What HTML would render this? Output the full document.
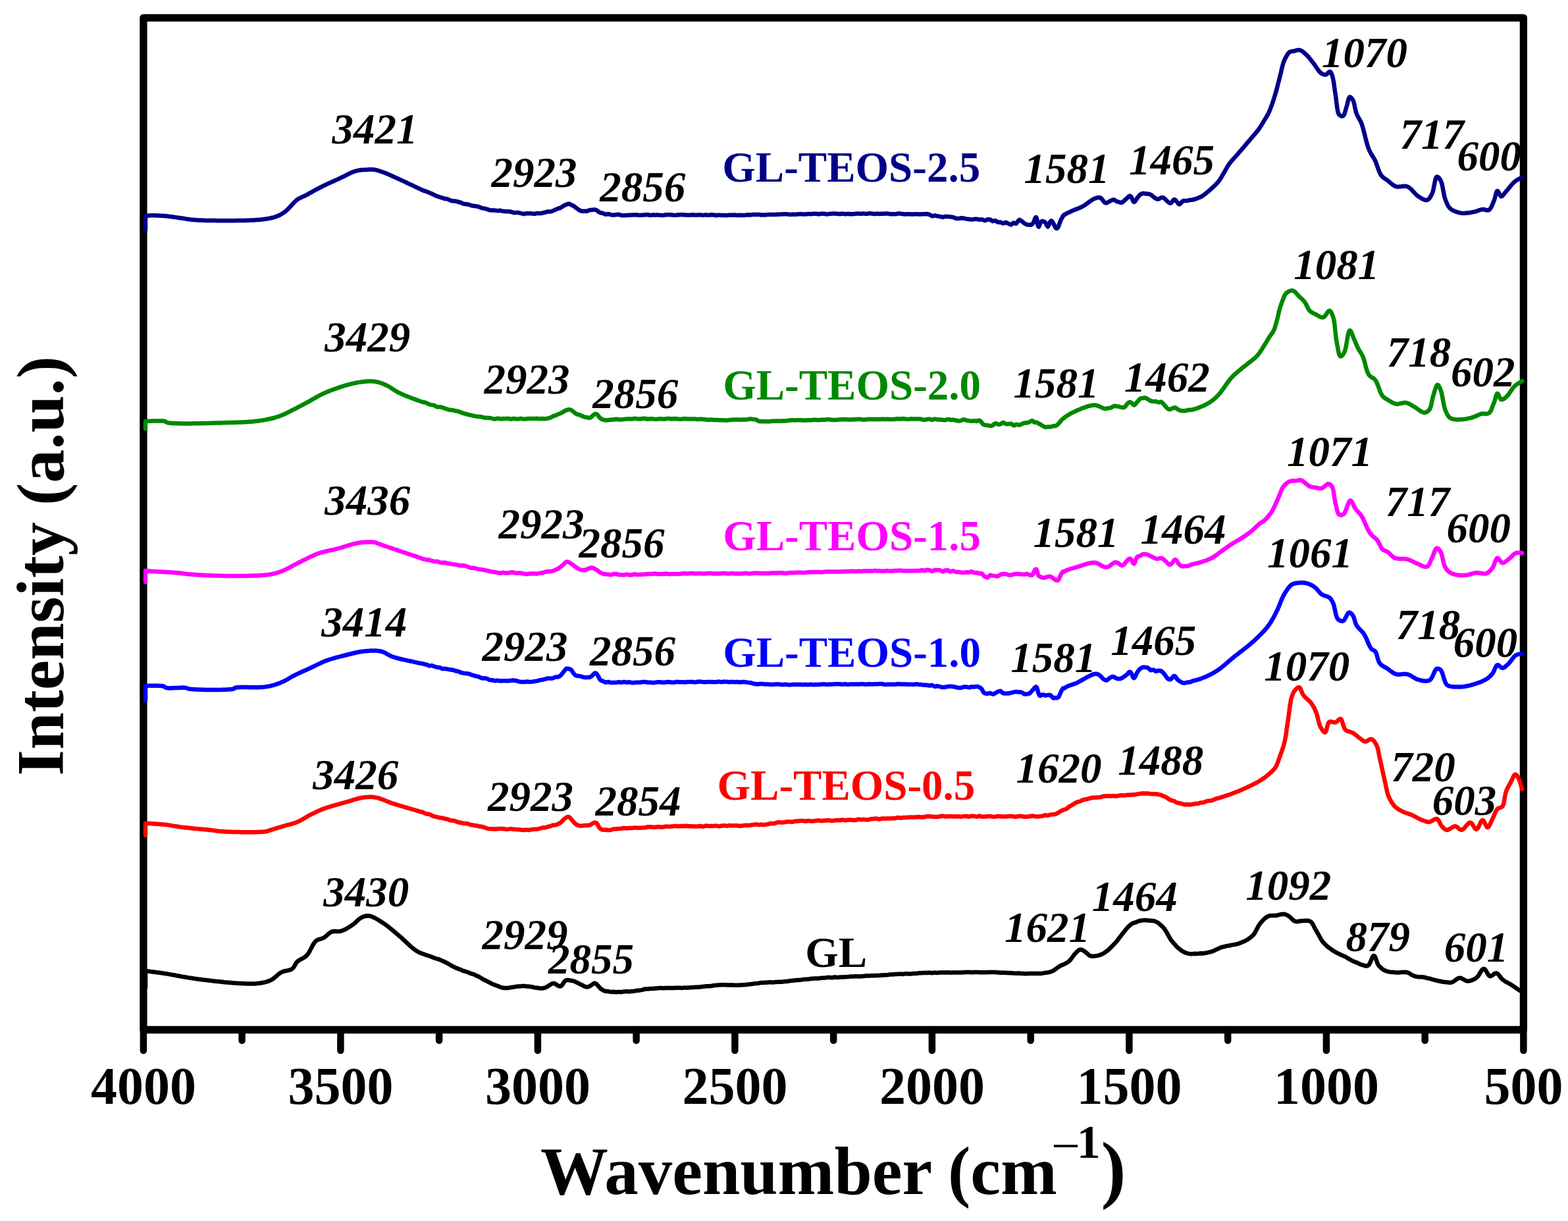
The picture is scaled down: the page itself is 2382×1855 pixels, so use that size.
<!DOCTYPE html>
<html><head><meta charset="utf-8"><title>FTIR spectra</title>
<style>
html,body{margin:0;padding:0;background:#fff;}
body{width:2382px;height:1855px;overflow:hidden;}
svg{display:block;}
text{font-family:"Liberation Serif",serif;}
.p{font-weight:bold;font-style:italic;font-size:65px;fill:#000;}
.s{font-weight:bold;font-size:65px;}
.t{font-weight:bold;font-size:80px;fill:#000;}
.c{fill:none;stroke-width:6.5;stroke-linejoin:round;stroke-linecap:round;}
</style></head><body>
<svg width="2382" height="1855" viewBox="0 0 2382 1855">
<rect x="0" y="0" width="2382" height="1855" fill="#fff"/>

<rect x="217.9" y="27.1" width="2096.5" height="1537.4" fill="none" stroke="#000" stroke-width="11.3" stroke-linejoin="round"/>
<line x1="217.9" y1="1564.5" x2="217.9" y2="1596" stroke="#000" stroke-width="10.5" stroke-linecap="round"/>
<line x1="367.6" y1="1564.5" x2="367.6" y2="1580.8" stroke="#000" stroke-width="10.5" stroke-linecap="round"/>
<line x1="517.4" y1="1564.5" x2="517.4" y2="1596" stroke="#000" stroke-width="10.5" stroke-linecap="round"/>
<line x1="667.1" y1="1564.5" x2="667.1" y2="1580.8" stroke="#000" stroke-width="10.5" stroke-linecap="round"/>
<line x1="816.9" y1="1564.5" x2="816.9" y2="1596" stroke="#000" stroke-width="10.5" stroke-linecap="round"/>
<line x1="966.6" y1="1564.5" x2="966.6" y2="1580.8" stroke="#000" stroke-width="10.5" stroke-linecap="round"/>
<line x1="1116.4" y1="1564.5" x2="1116.4" y2="1596" stroke="#000" stroke-width="10.5" stroke-linecap="round"/>
<line x1="1266.2" y1="1564.5" x2="1266.2" y2="1580.8" stroke="#000" stroke-width="10.5" stroke-linecap="round"/>
<line x1="1415.9" y1="1564.5" x2="1415.9" y2="1596" stroke="#000" stroke-width="10.5" stroke-linecap="round"/>
<line x1="1565.7" y1="1564.5" x2="1565.7" y2="1580.8" stroke="#000" stroke-width="10.5" stroke-linecap="round"/>
<line x1="1715.4" y1="1564.5" x2="1715.4" y2="1596" stroke="#000" stroke-width="10.5" stroke-linecap="round"/>
<line x1="1865.2" y1="1564.5" x2="1865.2" y2="1580.8" stroke="#000" stroke-width="10.5" stroke-linecap="round"/>
<line x1="2014.9" y1="1564.5" x2="2014.9" y2="1596" stroke="#000" stroke-width="10.5" stroke-linecap="round"/>
<line x1="2164.7" y1="1564.5" x2="2164.7" y2="1580.8" stroke="#000" stroke-width="10.5" stroke-linecap="round"/>
<line x1="2314.4" y1="1564.5" x2="2314.4" y2="1596" stroke="#000" stroke-width="10.5" stroke-linecap="round"/>
<text class="t" x="217.9" y="1676.6" text-anchor="middle">4000</text>
<text class="t" x="517.4" y="1676.6" text-anchor="middle">3500</text>
<text class="t" x="816.9" y="1676.6" text-anchor="middle">3000</text>
<text class="t" x="1116.4" y="1676.6" text-anchor="middle">2500</text>
<text class="t" x="1415.9" y="1676.6" text-anchor="middle">2000</text>
<text class="t" x="1715.4" y="1676.6" text-anchor="middle">1500</text>
<text class="t" x="2014.9" y="1676.6" text-anchor="middle">1000</text>
<text class="t" x="2314.4" y="1676.6" text-anchor="middle">500</text>
<polyline class="c" stroke="#000088" points="221.0,349.0 221.0,328.0 221.9,327.9 224.1,327.7 227.0,327.4 230.0,327.3 231.7,327.3 233.5,327.3 235.4,327.3 237.4,327.4 239.5,327.5 241.6,327.6 243.8,327.7 246.0,327.8 248.1,328.0 250.2,328.1 252.3,328.3 254.3,328.5 256.3,328.7 258.3,329.0 260.3,329.2 262.3,329.5 264.4,329.8 266.4,330.1 268.4,330.4 270.4,330.7 272.4,331.0 274.5,331.3 276.4,331.6 278.3,331.8 280.1,332.1 281.9,332.4 283.7,332.7 285.5,332.9 287.4,333.2 289.4,333.5 291.5,333.7 293.7,333.9 296.1,334.1 298.6,334.3 300.0,334.4 301.5,334.5 303.1,334.5 304.8,334.6 306.5,334.7 308.3,334.7 310.2,334.8 312.1,334.9 314.1,334.9 316.1,335.0 318.2,335.0 320.3,335.0 322.4,335.1 324.6,335.1 326.8,335.1 329.1,335.2 331.4,335.2 333.7,335.2 336.0,335.2 338.3,335.2 340.6,335.2 343.0,335.2 345.3,335.2 347.6,335.2 349.9,335.2 352.2,335.2 354.5,335.2 356.8,335.2 359.1,335.1 361.3,335.1 363.5,335.1 365.6,335.0 367.7,335.0 369.8,335.0 371.8,334.9 373.8,334.9 375.7,334.8 377.6,334.7 379.4,334.7 381.1,334.6 382.8,334.5 384.4,334.5 385.9,334.4 387.3,334.3 389.9,334.1 392.3,333.9 394.7,333.7 396.9,333.5 399.0,333.3 401.0,333.0 402.9,332.8 404.7,332.5 406.5,332.2 408.2,331.9 409.8,331.6 411.4,331.3 413.7,330.8 415.8,330.3 417.7,329.7 419.5,329.1 421.5,328.3 423.2,327.5 424.9,326.7 426.6,325.8 428.3,324.8 430.0,323.7 431.8,322.5 433.6,321.2 435.0,320.0 436.5,318.6 438.0,317.1 439.5,315.5 441.1,313.8 442.6,312.0 444.2,310.3 445.7,308.7 447.2,307.1 448.8,305.6 450.2,304.2 451.7,303.1 453.7,301.8 455.7,300.8 457.6,299.9 459.5,299.1 461.6,298.2 463.8,297.1 465.4,296.3 467.1,295.4 468.8,294.4 470.6,293.4 472.4,292.4 474.3,291.4 476.2,290.3 478.2,289.2 480.1,288.2 482.1,287.1 484.1,286.0 486.0,285.0 488.0,284.0 489.8,283.1 491.6,282.2 493.5,281.3 495.4,280.4 497.3,279.5 499.2,278.6 501.1,277.8 503.0,276.9 505.0,276.0 506.9,275.2 508.8,274.3 510.7,273.4 512.5,272.6 514.4,271.7 516.2,270.9 518.1,270.0 520.1,269.0 522.0,268.1 523.9,267.1 525.8,266.1 527.7,265.2 529.6,264.2 531.5,263.3 533.3,262.5 535.1,261.7 536.9,261.0 538.7,260.3 540.4,259.8 542.5,259.3 544.6,258.8 546.7,258.5 548.7,258.3 550.7,258.1 552.7,258.0 554.6,257.9 556.5,257.8 558.6,257.7 560.6,257.5 562.6,257.5 564.6,257.5 566.6,257.6 568.6,257.8 570.6,258.1 572.5,258.6 574.5,259.1 576.5,259.8 578.6,260.4 580.7,261.2 582.9,262.0 584.6,262.6 586.3,263.3 588.1,264.0 589.9,264.8 591.7,265.6 593.6,266.4 595.5,267.3 597.4,268.2 599.4,269.1 601.5,270.0 603.6,271.0 605.8,272.0 607.4,272.7 609.0,273.5 610.7,274.2 612.5,275.1 614.3,275.9 616.2,276.8 618.1,277.7 620.0,278.6 622.0,279.6 624.0,280.5 626.0,281.4 628.0,282.4 630.0,283.4 632.0,284.3 634.0,285.2 635.9,286.1 637.9,287.1 639.8,287.9 641.7,288.9 643.5,289.6 645.2,290.1 646.9,290.6 648.6,291.1 650.1,291.9 651.6,292.6 654.0,293.6 656.1,294.4 658.1,295.4 660.1,296.4 661.9,297.3 663.8,298.1 665.7,298.7 667.7,299.3 669.9,300.0 671.7,300.6 673.5,301.2 675.4,301.8 677.3,302.1 679.3,302.3 681.3,303.0 683.3,304.1 685.3,304.8 687.3,305.3 689.4,305.5 691.4,305.6 693.4,306.0 695.4,306.5 697.4,307.0 699.4,307.5 701.4,308.4 703.4,309.5 705.4,309.9 707.4,310.0 709.4,310.2 711.4,310.6 713.4,311.3 715.4,312.1 717.4,312.5 719.3,312.7 721.2,313.0 723.0,313.2 724.8,313.5 727.0,314.2 729.1,314.9 731.2,315.8 733.2,316.3 735.2,316.6 737.2,317.0 739.1,317.6 741.1,318.2 743.1,319.0 745.2,319.4 747.4,319.4 749.5,319.5 751.6,319.6 753.7,319.9 755.8,320.2 757.9,320.0 760.0,319.8 762.1,320.4 764.2,320.8 766.3,321.1 768.4,321.3 770.6,321.3 772.8,321.3 775.0,321.5 777.4,322.1 779.3,322.9 781.3,323.2 783.3,323.1 785.4,323.1 787.6,323.1 789.7,323.6 791.9,324.2 794.1,324.7 796.3,325.0 798.4,324.5 800.6,324.1 802.7,324.2 804.8,324.3 806.9,324.3 809.0,324.6 811.2,324.9 813.3,324.7 815.4,324.0 817.5,324.0 819.6,324.2 821.6,324.0 823.7,323.6 825.7,323.2 827.7,322.8 829.6,322.2 831.9,321.4 834.1,321.5 836.3,321.5 838.5,320.8 840.6,320.0 842.7,319.1 844.8,318.2 846.8,317.2 848.8,316.5 850.8,316.0 852.8,315.0 854.7,313.6 856.7,312.4 858.5,311.5 860.4,310.7 862.2,310.0 864.0,309.6 865.8,310.2 867.6,311.2 869.4,312.0 871.1,312.8 872.9,314.0 874.6,315.4 876.3,316.6 878.5,318.2 880.6,319.6 882.7,320.4 884.9,320.9 887.3,320.7 889.2,320.8 891.3,320.9 893.5,320.2 895.7,319.1 897.9,318.9 900.0,318.9 901.9,318.5 903.7,318.5 905.9,319.2 907.7,320.5 909.6,322.0 912.0,323.2 913.4,323.5 914.9,323.7 916.5,324.1 918.1,325.0 919.9,325.8 921.7,325.5 923.7,325.0 925.7,325.5 927.8,326.3 930.0,326.6 932.3,326.7 934.6,326.4 937.1,326.1 939.6,325.8 942.2,326.5 943.6,326.9 945.1,327.2 946.7,327.3 948.3,327.3 949.9,327.2 951.6,327.1 953.4,327.0 955.2,326.8 957.0,326.8 958.9,326.7 960.9,326.6 962.8,326.6 964.9,326.6 966.9,326.5 969.0,326.6 971.1,327.0 973.2,327.0 975.4,326.8 977.6,326.6 979.8,326.4 982.0,326.3 984.2,326.3 986.5,326.8 988.8,327.0 991.0,326.6 993.3,326.6 995.6,326.7 997.9,326.6 1000.2,326.6 1002.5,326.9 1004.8,327.1 1007.1,327.1 1009.4,326.8 1011.7,326.2 1013.9,326.2 1016.2,326.3 1018.4,326.3 1020.6,326.5 1022.8,326.8 1025.0,326.9 1027.2,326.8 1029.3,326.6 1031.4,326.4 1033.5,326.2 1035.5,326.2 1037.5,326.3 1039.5,326.5 1041.4,326.6 1043.3,326.7 1045.1,326.8 1046.9,326.8 1048.7,326.7 1050.4,326.5 1052.0,326.2 1054.4,326.6 1056.6,326.8 1058.8,326.7 1061.0,326.6 1063.1,326.5 1065.1,326.6 1067.0,326.9 1069.0,326.9 1070.9,326.6 1072.7,326.5 1074.6,326.7 1076.4,326.9 1078.2,326.6 1080.1,326.3 1081.9,326.4 1083.8,326.5 1085.6,326.8 1087.6,327.2 1089.5,327.0 1091.5,326.7 1093.5,326.8 1095.6,327.1 1097.8,327.1 1100.0,327.0 1101.8,327.1 1103.5,327.2 1105.3,327.1 1107.2,326.8 1109.0,326.7 1110.9,326.7 1112.8,326.7 1114.7,326.6 1116.7,326.7 1118.6,326.9 1120.6,327.1 1122.6,326.9 1124.6,326.8 1126.6,327.0 1128.6,327.1 1130.7,327.0 1132.7,326.8 1134.8,326.4 1136.9,326.2 1139.0,326.4 1141.0,326.4 1143.1,326.1 1145.2,326.0 1147.3,325.9 1149.4,325.9 1151.5,325.8 1153.6,326.1 1155.7,326.5 1157.8,326.5 1159.9,326.4 1162.0,326.4 1164.1,326.4 1166.2,326.1 1168.2,325.9 1170.3,326.0 1172.3,326.1 1174.4,326.1 1176.4,326.1 1178.4,325.9 1180.4,325.7 1182.4,325.8 1184.4,325.8 1186.5,325.6 1188.5,325.4 1190.5,325.3 1192.5,325.3 1194.4,325.3 1196.4,325.5 1198.4,325.7 1200.3,325.9 1202.2,325.8 1204.2,325.6 1206.1,325.7 1208.0,325.9 1209.9,325.6 1211.8,325.4 1213.8,325.3 1215.7,325.2 1217.6,325.3 1219.5,325.5 1221.5,325.6 1223.4,325.6 1225.4,325.3 1227.4,324.9 1229.3,324.9 1231.3,325.2 1233.4,325.1 1235.4,324.8 1237.4,324.7 1239.5,324.7 1241.6,325.0 1243.7,325.4 1245.9,325.0 1248.0,324.6 1250.2,324.7 1252.4,324.8 1254.7,325.3 1257.0,325.4 1259.3,325.0 1261.0,324.8 1262.8,324.7 1264.6,324.6 1266.4,324.6 1268.3,324.6 1270.2,324.7 1272.1,324.7 1274.1,325.0 1276.1,325.2 1278.1,324.8 1280.1,324.6 1282.2,325.0 1284.3,325.3 1286.4,325.0 1288.5,324.8 1290.7,325.2 1292.9,325.3 1295.0,325.3 1297.3,325.1 1299.5,324.7 1301.7,324.6 1304.0,324.6 1306.2,324.7 1308.5,324.7 1310.8,324.5 1313.1,324.6 1315.3,324.9 1317.6,324.7 1319.9,324.3 1322.2,324.3 1324.5,324.4 1326.8,325.0 1329.1,325.1 1331.4,324.7 1333.7,324.7 1336.0,324.9 1338.3,324.8 1340.5,324.7 1342.8,324.7 1345.0,324.5 1347.3,324.4 1349.5,324.7 1351.7,325.2 1353.9,325.3 1356.0,325.3 1358.2,325.3 1360.3,325.3 1362.4,324.8 1364.5,324.5 1366.6,324.6 1368.6,324.7 1370.6,325.0 1372.6,325.2 1374.6,325.4 1376.5,325.5 1378.4,325.3 1380.2,325.2 1382.1,325.3 1383.8,325.4 1385.6,325.4 1387.3,325.4 1389.0,325.4 1390.6,325.3 1392.2,325.2 1393.7,325.3 1395.2,325.5 1396.7,325.6 1398.1,325.5 1399.4,325.5 1400.7,325.2 1402.0,325.2 1404.8,325.2 1407.5,325.0 1409.9,325.4 1412.1,326.0 1414.2,327.3 1416.2,328.3 1418.2,327.8 1420.0,327.3 1421.9,327.8 1423.8,328.3 1425.7,328.6 1427.6,328.8 1429.7,329.4 1431.8,330.0 1433.9,329.5 1436.0,328.9 1438.0,329.0 1440.1,329.1 1442.2,329.3 1444.2,329.6 1446.3,329.7 1448.4,330.1 1450.5,331.1 1452.7,331.9 1454.8,332.1 1457.0,332.0 1459.0,331.4 1461.0,331.2 1463.1,331.4 1465.2,331.9 1467.3,332.4 1469.4,332.7 1471.6,333.0 1473.7,333.3 1475.9,333.5 1478.0,333.3 1480.1,333.0 1482.1,332.8 1484.2,332.8 1486.2,333.3 1488.1,333.7 1490.0,333.6 1492.2,333.6 1494.2,334.4 1496.3,335.1 1498.2,334.5 1500.2,333.3 1502.1,333.4 1504.0,333.5 1505.9,334.8 1507.9,336.2 1509.9,335.7 1512.0,335.1 1514.1,336.5 1516.2,337.8 1518.4,337.5 1520.7,337.8 1523.0,339.2 1525.3,339.1 1527.6,337.8 1529.8,338.6 1532.0,339.8 1534.1,340.7 1536.1,341.4 1537.9,340.0 1539.6,338.5 1541.7,339.1 1543.6,339.8 1545.3,337.9 1546.9,335.3 1548.6,333.9 1550.5,334.8 1552.2,336.2 1554.1,337.5 1556.1,339.2 1558.1,340.3 1560.1,341.3 1562.1,341.6 1563.9,341.6 1565.6,341.8 1567.0,341.4 1568.4,340.2 1569.7,338.6 1570.7,336.3 1571.6,333.9 1572.4,331.7 1573.2,330.3 1574.0,330.0 1574.7,331.1 1575.3,333.5 1575.8,336.7 1576.2,339.7 1576.7,342.3 1577.3,344.0 1578.0,344.5 1578.9,343.0 1579.9,340.0 1581.0,337.9 1582.2,336.3 1583.5,336.0 1585.0,336.2 1586.7,336.9 1588.5,338.8 1590.2,342.4 1591.8,344.5 1593.6,341.6 1595.2,337.2 1597.0,335.3 1598.3,336.3 1599.7,338.4 1601.2,341.4 1602.7,344.5 1604.2,346.9 1605.5,347.2 1606.5,346.5 1607.4,345.2 1608.2,343.4 1608.9,341.3 1609.7,339.0 1610.6,336.7 1611.5,334.4 1612.5,332.4 1613.7,330.7 1615.1,327.6 1616.7,326.4 1618.4,325.4 1620.1,324.4 1621.9,323.5 1623.8,322.7 1625.7,321.8 1627.5,320.9 1629.5,320.0 1631.5,319.1 1633.5,318.4 1635.6,317.6 1637.7,316.8 1639.8,316.0 1641.9,315.0 1644.0,314.0 1645.7,313.0 1647.5,311.9 1649.3,310.6 1651.2,309.3 1653.0,308.0 1654.8,306.7 1656.6,305.4 1658.3,304.2 1659.9,303.1 1661.5,302.3 1663.0,301.6 1665.3,300.8 1667.4,300.2 1669.4,300.0 1671.4,300.3 1673.1,301.5 1674.7,303.4 1676.3,305.6 1677.9,307.5 1679.7,308.5 1681.7,308.1 1683.8,307.0 1686.1,305.7 1688.4,304.4 1690.7,303.4 1692.6,303.6 1694.6,304.9 1696.6,306.1 1698.6,306.7 1700.7,307.2 1702.6,307.8 1704.5,307.7 1706.4,306.3 1708.3,304.4 1710.2,302.9 1712.0,301.2 1713.7,299.4 1715.3,298.0 1716.7,297.6 1718.2,298.7 1719.4,301.0 1720.5,303.7 1721.6,306.0 1722.8,307.0 1724.0,306.4 1725.1,304.9 1726.3,303.0 1727.5,301.0 1728.9,299.1 1730.6,297.1 1732.4,295.3 1734.4,294.3 1736.5,293.7 1738.4,293.9 1740.4,294.3 1742.6,294.4 1744.7,294.7 1746.8,295.2 1748.8,296.1 1750.7,297.7 1752.6,299.4 1754.3,300.7 1756.1,301.7 1757.9,302.5 1760.2,302.4 1762.5,301.1 1764.8,300.1 1767.1,300.3 1768.7,301.3 1770.3,302.7 1771.9,304.6 1773.5,306.0 1775.0,307.2 1776.4,308.2 1777.8,308.8 1779.4,308.1 1780.9,306.1 1782.4,304.0 1783.9,303.1 1785.4,303.6 1786.9,305.3 1788.5,307.4 1790.0,309.5 1791.5,310.4 1793.0,309.8 1794.4,308.1 1795.9,306.2 1797.7,305.1 1799.4,305.0 1801.3,305.0 1803.4,305.0 1805.6,304.5 1807.7,303.7 1809.9,303.8 1811.8,303.5 1813.7,303.0 1815.6,302.5 1817.5,301.8 1819.5,301.1 1821.4,300.3 1823.3,299.5 1825.2,298.5 1827.0,297.4 1828.8,296.2 1830.5,294.9 1832.3,293.5 1834.0,292.1 1835.7,290.6 1837.4,289.1 1839.0,287.7 1840.5,286.3 1842.2,284.8 1843.8,283.3 1845.4,281.8 1846.9,280.3 1848.3,278.8 1849.8,277.2 1851.1,275.6 1852.3,274.0 1853.5,272.3 1854.6,270.6 1855.6,268.8 1856.6,267.0 1857.7,265.2 1858.8,263.4 1859.9,261.6 1861.0,259.6 1862.1,257.7 1863.2,255.7 1864.4,253.7 1865.5,251.8 1866.7,249.9 1868.0,248.1 1869.2,246.5 1870.5,245.0 1871.8,243.5 1873.1,242.1 1874.4,240.6 1875.8,239.1 1877.2,237.6 1878.7,235.9 1879.9,234.6 1881.1,233.1 1882.3,231.7 1883.6,230.2 1885.0,228.6 1886.3,227.1 1887.7,225.5 1889.0,223.9 1890.4,222.3 1891.8,220.7 1893.1,219.1 1894.4,217.5 1895.7,216.0 1897.0,214.5 1898.5,212.8 1900.0,211.0 1901.4,209.3 1902.9,207.6 1904.4,205.9 1905.8,204.2 1907.2,202.5 1908.6,200.9 1909.9,199.2 1911.1,197.7 1912.3,196.1 1913.6,194.3 1914.8,192.5 1915.9,190.8 1916.9,189.1 1917.9,187.4 1919.0,185.7 1920.0,183.9 1921.1,182.1 1922.2,180.4 1923.3,178.6 1924.3,176.8 1925.4,174.9 1926.5,173.0 1927.5,170.8 1928.3,169.1 1929.0,167.3 1929.8,165.4 1930.5,163.5 1931.3,161.5 1932.0,159.4 1932.8,157.3 1933.5,155.2 1934.2,153.0 1934.9,150.9 1935.6,148.7 1936.2,146.6 1936.9,144.5 1937.5,142.5 1938.1,140.5 1938.7,138.5 1939.2,136.5 1939.8,134.4 1940.3,132.4 1940.8,130.4 1941.3,128.3 1941.8,126.3 1942.4,124.2 1942.9,122.2 1943.4,120.2 1943.9,118.3 1944.4,116.3 1944.9,114.2 1945.5,112.0 1946.0,109.9 1946.5,107.7 1946.9,105.6 1947.4,103.4 1947.9,101.4 1948.5,99.3 1949.0,97.4 1949.6,95.4 1950.3,93.6 1951.0,91.9 1952.0,89.6 1953.2,87.4 1954.3,85.2 1955.6,83.1 1956.8,81.3 1958.1,79.9 1959.4,78.8 1962.1,78.0 1965.0,77.8 1967.2,77.2 1969.6,76.5 1972.0,75.9 1974.4,76.0 1976.3,76.7 1978.2,77.8 1980.1,79.2 1981.9,80.8 1983.8,82.5 1985.2,83.9 1986.7,85.4 1988.1,87.0 1989.5,88.7 1990.9,90.4 1992.3,92.2 1993.7,94.0 1995.1,95.7 1996.4,97.4 1997.6,99.2 1998.9,101.1 2000.1,103.0 2001.4,104.9 2002.6,106.6 2003.9,108.2 2005.1,109.6 2006.4,110.7 2008.3,112.0 2010.2,112.9 2012.1,113.5 2013.9,113.5 2015.7,112.6 2017.4,110.9 2019.0,109.3 2020.4,108.8 2021.6,109.7 2022.5,111.4 2023.4,113.7 2024.2,116.3 2024.6,117.7 2025.0,119.3 2025.4,121.1 2025.7,123.0 2026.1,125.0 2026.4,127.0 2026.7,129.2 2027.0,131.4 2027.3,133.6 2027.6,135.8 2027.9,138.1 2028.2,140.3 2028.5,142.4 2028.9,144.5 2029.2,146.5 2029.5,148.7 2029.8,151.0 2030.1,153.4 2030.3,155.8 2030.6,158.1 2030.9,160.5 2031.2,162.8 2031.5,165.0 2031.9,167.1 2032.3,169.0 2032.7,170.8 2033.3,172.3 2033.8,173.5 2034.5,174.5 2037.3,176.4 2040.1,176.4 2041.0,175.6 2041.9,174.2 2042.6,172.4 2043.3,170.3 2043.9,168.0 2044.5,165.7 2045.2,163.4 2045.8,161.4 2046.5,159.1 2047.1,156.6 2047.7,154.0 2048.3,151.6 2049.0,149.5 2049.7,148.0 2050.5,147.3 2052.0,147.8 2053.7,149.7 2055.2,152.0 2055.9,153.4 2056.5,155.2 2057.1,157.2 2057.6,159.3 2058.0,161.6 2058.5,163.9 2059.0,166.2 2059.5,168.5 2060.1,170.6 2060.8,172.6 2061.6,174.6 2062.5,176.4 2063.4,178.1 2064.4,179.8 2065.4,181.6 2066.4,183.4 2067.4,185.5 2068.3,187.7 2068.9,189.3 2069.4,190.9 2070.0,192.7 2070.5,194.6 2071.1,196.6 2071.6,198.7 2072.2,200.8 2072.7,202.9 2073.3,205.1 2073.8,207.3 2074.3,209.5 2074.9,211.7 2075.5,213.8 2076.0,216.0 2076.6,218.0 2077.2,220.0 2077.8,222.0 2078.4,223.8 2079.0,225.5 2079.6,227.1 2080.6,229.3 2081.6,231.4 2082.7,233.2 2083.7,235.0 2084.8,236.7 2085.9,238.5 2087.0,240.2 2088.0,242.0 2089.0,244.0 2089.8,245.8 2090.6,247.7 2091.3,249.7 2092.0,251.7 2092.7,253.8 2093.4,255.9 2094.2,257.9 2094.9,259.9 2095.7,261.8 2096.5,263.5 2097.4,265.1 2098.3,266.5 2099.7,268.1 2101.2,269.5 2102.7,270.6 2104.3,271.7 2106.0,272.8 2107.7,274.0 2109.2,275.2 2110.7,276.5 2112.3,277.9 2113.9,279.2 2115.6,280.5 2117.3,281.7 2119.1,282.7 2120.9,283.4 2122.9,283.8 2124.9,283.8 2127.1,283.6 2129.3,283.3 2131.5,282.9 2133.6,282.8 2135.8,282.9 2137.8,283.4 2139.4,284.2 2141.1,285.3 2142.6,286.6 2144.2,288.0 2145.7,289.6 2147.2,291.3 2148.7,292.9 2150.2,294.5 2151.7,296.0 2153.2,297.3 2154.7,298.4 2156.6,299.6 2158.6,300.9 2160.6,302.1 2162.6,303.0 2164.4,303.8 2166.2,304.1 2167.8,304.0 2169.6,303.1 2171.2,301.6 2172.7,299.5 2174.0,297.2 2175.3,294.7 2176.0,293.0 2176.7,291.0 2177.3,288.7 2177.8,286.1 2178.3,283.5 2178.9,280.8 2179.4,278.2 2179.9,275.7 2180.4,273.5 2180.9,271.5 2181.5,270.0 2182.1,268.9 2182.8,268.4 2184.6,269.0 2186.6,271.1 2188.4,274.0 2189.0,275.3 2189.6,276.8 2190.2,278.6 2190.7,280.5 2191.1,282.6 2191.6,284.8 2192.0,287.1 2192.5,289.4 2192.9,291.7 2193.4,294.0 2193.8,296.3 2194.3,298.4 2194.8,300.5 2195.4,302.3 2196.0,304.0 2196.9,306.3 2197.8,308.4 2198.7,310.5 2199.7,312.4 2200.8,314.1 2202.0,315.7 2203.5,317.2 2205.0,318.3 2206.6,319.4 2208.4,320.3 2210.3,321.1 2212.2,321.8 2214.3,322.4 2216.3,323.0 2218.3,323.4 2220.3,323.7 2222.3,323.9 2224.4,323.9 2226.6,323.8 2228.7,323.6 2230.9,323.4 2233.0,323.0 2235.1,322.7 2237.2,322.3 2239.1,321.9 2241.5,321.3 2243.8,320.6 2246.0,319.8 2248.1,319.0 2250.2,318.4 2252.3,318.1 2254.8,318.3 2257.3,319.0 2259.6,319.5 2261.7,319.1 2263.0,318.1 2264.3,316.6 2265.4,314.7 2266.4,312.5 2267.4,310.3 2268.3,308.0 2269.2,305.9 2270.0,303.8 2270.7,301.4 2271.4,298.8 2272.0,296.2 2272.7,293.8 2273.3,291.9 2274.0,290.6 2274.8,290.0 2275.8,290.8 2276.9,292.8 2278.0,295.3 2279.2,297.4 2280.4,298.4 2281.8,298.0 2283.2,296.7 2284.7,294.9 2286.3,292.8 2287.9,290.9 2289.2,289.4 2290.6,287.8 2292.0,286.0 2293.5,284.2 2295.0,282.3 2296.5,280.5 2298.1,278.8 2299.6,277.3 2301.1,275.9 2303.2,274.4 2305.6,272.8 2308.1,271.5 2310.2,270.3 2311.7,269.6 2312.3,269.3"/>
<polyline class="c" stroke="#008800" points="221.0,651.0 221.0,640.0 221.4,640.0 222.4,639.9 223.9,639.9 225.9,639.8 228.3,639.7 230.9,639.6 233.7,639.5 236.6,639.5 239.5,639.4 242.2,639.4 244.8,639.5 247.0,639.6 248.9,639.8 250.3,640.0 252.2,641.0 254.3,642.1 255.1,642.3 255.9,642.4 256.9,642.6 258.1,642.7 259.3,642.8 260.6,642.9 262.1,643.0 263.6,643.1 265.3,643.1 267.0,643.2 268.8,643.3 270.7,643.3 272.7,643.3 274.7,643.4 276.8,643.4 279.0,643.4 281.2,643.4 283.5,643.4 285.8,643.4 288.2,643.4 290.5,643.4 293.0,643.3 295.4,643.3 297.9,643.3 300.3,643.2 302.8,643.2 305.3,643.2 307.8,643.1 310.3,643.1 312.8,643.0 315.2,642.9 317.7,642.9 320.1,642.8 322.5,642.8 324.8,642.7 327.1,642.6 329.4,642.6 331.6,642.5 333.8,642.5 335.9,642.4 337.9,642.3 339.9,642.3 341.8,642.2 343.6,642.2 345.4,642.1 347.0,642.1 349.4,642.0 351.7,642.0 354.0,641.9 356.3,641.8 358.5,641.8 360.6,641.7 362.7,641.6 364.8,641.5 366.8,641.5 368.8,641.4 370.8,641.3 372.7,641.2 374.6,641.1 376.5,640.9 378.4,640.8 380.2,640.7 382.0,640.5 383.8,640.4 385.5,640.2 387.3,640.0 389.5,639.7 391.7,639.5 393.9,639.2 396.0,638.9 398.0,638.6 400.1,638.3 402.0,637.9 404.0,637.6 405.9,637.2 407.8,636.8 409.6,636.4 411.4,636.0 413.6,635.5 415.6,635.0 417.5,634.5 419.4,633.9 421.3,633.3 423.3,632.6 425.3,631.9 427.6,631.0 429.1,630.4 430.7,629.7 432.3,629.0 434.0,628.2 435.8,627.3 437.5,626.5 439.3,625.6 441.2,624.7 443.0,623.7 444.9,622.7 446.8,621.8 448.7,620.8 450.6,619.8 452.5,618.8 454.4,617.8 456.3,616.8 458.1,615.8 460.0,614.8 461.8,613.9 463.6,613.0 465.4,612.0 467.1,611.0 468.9,610.1 470.7,609.1 472.4,608.1 474.2,607.1 475.9,606.1 477.7,605.1 479.4,604.1 481.2,603.1 483.0,602.1 484.8,601.2 486.6,600.2 488.4,599.3 490.3,598.4 492.1,597.5 494.1,596.6 496.0,595.8 497.8,595.1 499.6,594.3 501.5,593.6 503.4,592.8 505.3,592.1 507.3,591.4 509.3,590.7 511.3,589.9 513.3,589.2 515.3,588.6 517.3,587.9 519.3,587.2 521.4,586.6 523.4,586.0 525.4,585.4 527.3,584.9 529.3,584.3 531.2,583.8 533.1,583.3 535.0,582.9 536.8,582.4 538.6,582.1 540.4,581.7 542.6,581.3 544.8,580.9 546.9,580.6 549.0,580.2 551.1,580.0 553.2,579.7 555.2,579.5 557.2,579.4 559.2,579.3 561.2,579.2 563.1,579.2 564.9,579.3 566.8,579.4 568.6,579.6 570.9,579.9 573.1,580.4 575.3,580.9 577.4,581.5 579.4,582.2 581.5,583.0 583.5,583.8 585.5,584.7 587.5,585.6 589.3,586.5 591.1,587.5 592.8,588.5 594.5,589.6 596.1,590.8 597.9,591.9 599.7,593.1 601.6,594.3 603.6,595.5 605.8,596.6 607.3,597.3 608.9,598.0 610.5,598.8 612.2,599.5 613.9,600.3 615.7,601.0 617.5,601.8 619.4,602.5 621.3,603.3 623.3,604.1 625.3,604.8 627.3,605.6 629.3,606.3 631.4,607.1 633.4,607.8 635.5,608.6 637.5,609.3 639.6,610.0 641.6,610.8 643.7,610.9 645.7,611.5 647.7,612.2 649.7,613.2 651.6,614.2 653.6,614.7 655.6,615.1 657.6,615.4 659.6,615.7 661.6,616.9 663.6,618.2 665.6,618.3 667.7,618.2 669.7,618.5 671.7,618.9 673.8,619.7 675.8,620.4 677.8,621.1 679.8,621.8 681.8,622.4 683.8,623.0 685.8,623.1 687.8,623.0 689.7,623.6 691.7,624.2 693.6,624.5 695.5,624.8 697.4,625.4 699.6,626.3 701.7,627.1 703.9,627.9 706.1,628.4 708.3,629.0 710.4,629.6 712.6,630.2 714.7,630.6 716.9,631.1 719.0,631.6 721.0,632.1 723.0,632.4 725.0,632.7 726.9,632.9 728.8,633.1 730.6,633.3 732.3,633.5 734.0,634.1 736.3,634.8 738.3,634.8 740.3,634.8 742.1,634.9 744.0,634.9 745.8,635.3 747.8,635.8 750.0,636.3 751.9,636.7 753.8,636.2 755.8,635.7 757.9,636.0 760.0,636.4 762.2,636.2 764.3,636.1 766.5,636.2 768.7,636.1 770.9,635.8 773.1,636.0 775.3,636.7 777.4,636.5 779.5,636.0 781.6,636.1 783.7,636.5 785.8,636.4 787.9,636.4 790.0,636.1 792.2,635.9 794.3,636.4 796.4,636.7 798.5,636.4 800.6,636.2 802.7,636.1 804.8,636.0 806.9,635.9 809.1,635.9 811.3,636.0 813.5,635.9 815.7,635.8 817.9,636.1 820.1,636.4 822.3,636.1 824.4,636.0 826.5,636.2 828.5,636.2 830.4,635.9 832.3,635.5 834.6,635.1 836.8,634.3 838.9,633.0 840.9,632.0 842.9,631.5 844.9,630.7 846.8,629.8 848.8,629.0 850.8,628.3 852.7,627.4 854.7,626.1 856.6,625.0 858.5,624.0 860.4,623.1 862.2,622.5 864.0,622.2 865.8,622.3 867.5,622.8 869.2,623.9 870.9,625.4 872.6,626.9 874.4,628.2 876.3,629.3 878.3,629.7 880.4,630.3 882.6,631.2 884.9,632.2 887.2,633.3 889.4,633.9 891.6,634.1 893.7,634.6 895.5,635.0 897.7,634.1 899.7,632.2 901.5,630.5 903.3,629.1 905.1,628.7 906.7,629.4 908.1,630.7 909.5,632.5 911.0,634.3 912.7,635.9 914.7,637.1 916.2,637.5 917.9,638.0 919.6,638.3 921.4,638.4 923.3,638.2 925.3,638.0 927.4,637.7 929.6,637.6 931.9,637.6 934.3,637.0 936.8,636.7 939.4,637.3 942.2,637.4 943.6,637.4 945.0,637.3 946.6,637.1 948.1,637.0 949.8,636.8 951.4,636.6 953.2,636.5 955.0,636.5 956.8,636.6 958.7,636.6 960.6,636.5 962.5,636.1 964.5,635.8 966.6,636.1 968.7,636.4 970.8,636.4 972.9,636.4 975.0,636.0 977.2,635.9 979.4,635.8 981.7,636.2 983.9,636.9 986.2,636.5 988.4,636.2 990.7,636.3 993.0,636.6 995.3,636.9 997.6,636.8 1000.0,636.6 1002.3,636.3 1004.6,636.3 1006.9,636.7 1009.2,636.7 1011.5,636.3 1013.7,636.1 1016.0,635.9 1018.3,636.3 1020.5,636.5 1022.7,636.2 1024.9,636.1 1027.1,636.2 1029.2,636.4 1031.3,636.7 1033.4,636.8 1035.4,636.7 1037.5,636.4 1039.4,636.1 1041.4,636.2 1043.3,636.4 1045.1,636.5 1046.9,636.5 1048.7,636.6 1050.4,636.6 1052.0,636.7 1054.4,636.6 1056.7,636.6 1058.9,636.9 1061.1,636.9 1063.3,636.7 1065.4,636.7 1067.4,636.9 1069.4,637.1 1071.4,637.2 1073.4,637.5 1075.3,637.9 1077.2,637.8 1079.1,637.5 1080.9,637.5 1082.8,637.9 1084.7,638.1 1086.5,637.9 1088.4,637.9 1090.3,638.1 1092.2,638.3 1094.1,638.3 1096.0,638.2 1098.0,638.3 1100.0,638.4 1102.1,638.5 1104.3,638.6 1106.6,638.3 1108.9,638.1 1111.3,637.8 1113.8,637.7 1116.3,637.5 1118.8,637.4 1121.3,637.5 1123.8,637.8 1126.2,637.6 1128.7,637.4 1131.0,637.5 1133.3,637.4 1135.5,637.2 1137.7,636.8 1139.7,636.4 1141.6,636.6 1143.3,636.9 1144.9,637.1 1146.3,637.2 1147.6,637.4 1148.6,637.5 1149.5,637.8 1152.0,639.7 1152.7,639.9 1153.6,640.0 1154.6,640.1 1155.8,640.2 1157.0,640.2 1158.4,640.2 1159.9,640.2 1161.5,640.2 1163.2,640.2 1164.9,640.3 1166.8,640.4 1168.8,640.3 1170.8,640.0 1172.9,639.8 1175.1,639.8 1177.3,639.8 1179.6,639.6 1182.0,639.7 1184.4,639.8 1186.8,639.6 1189.3,639.5 1191.8,639.4 1194.4,639.3 1197.0,639.0 1199.5,638.5 1202.2,638.3 1204.8,638.3 1207.4,638.4 1210.0,638.3 1211.4,638.2 1212.8,638.2 1214.3,638.2 1215.8,638.2 1217.4,638.3 1219.0,638.4 1220.6,638.5 1222.3,638.5 1224.0,638.6 1225.7,638.5 1227.4,638.3 1229.2,638.3 1231.0,638.4 1232.8,638.2 1234.7,637.9 1236.6,637.7 1238.5,637.8 1240.5,637.9 1242.4,638.2 1244.4,638.3 1246.4,637.9 1248.5,637.5 1250.5,637.7 1252.6,637.7 1254.7,637.5 1256.8,637.3 1259.0,637.3 1261.1,637.5 1263.3,637.9 1265.5,638.1 1267.7,638.1 1269.9,637.9 1272.2,637.7 1274.4,637.4 1276.7,637.2 1278.9,637.2 1281.2,637.2 1283.5,637.1 1285.8,637.3 1288.1,637.5 1290.4,637.5 1292.7,637.4 1295.1,637.3 1297.4,637.2 1299.7,637.2 1302.1,637.0 1304.4,636.8 1306.8,637.0 1309.1,637.3 1311.4,637.5 1313.8,637.4 1316.1,637.3 1318.5,636.9 1320.8,636.7 1323.2,636.9 1325.5,637.0 1327.8,637.1 1330.1,636.9 1332.5,636.7 1334.8,637.0 1337.1,637.1 1339.4,636.8 1341.6,636.8 1343.9,637.0 1346.2,636.8 1348.4,636.7 1350.7,637.0 1352.9,637.1 1355.1,637.0 1357.3,636.9 1359.4,636.8 1361.6,636.5 1363.7,636.3 1365.9,636.4 1368.0,636.5 1370.1,636.3 1372.1,636.1 1374.2,636.4 1376.2,636.7 1378.2,636.8 1380.2,636.9 1382.1,636.6 1384.0,636.2 1385.9,636.4 1387.8,636.5 1389.6,636.5 1391.5,636.5 1393.2,636.5 1395.0,636.5 1396.7,636.5 1398.4,636.6 1400.1,637.2 1401.7,637.4 1403.3,637.7 1404.9,637.7 1406.4,637.4 1407.9,637.2 1409.3,637.0 1410.7,636.8 1412.1,636.6 1413.5,637.1 1414.7,637.5 1416.0,638.0 1418.8,636.8 1421.4,636.7 1423.9,637.5 1426.3,637.5 1428.6,637.5 1430.8,637.7 1432.9,638.0 1434.9,638.2 1436.8,638.0 1438.7,637.2 1440.6,636.9 1442.4,637.5 1444.2,638.0 1446.0,637.8 1447.8,637.7 1449.6,638.0 1451.4,638.5 1453.2,638.9 1455.1,639.4 1457.0,639.5 1459.2,639.1 1461.5,638.3 1463.8,637.3 1466.2,637.9 1468.5,638.6 1470.9,639.0 1473.2,639.4 1475.5,639.7 1477.7,639.5 1479.9,639.2 1481.9,639.5 1483.9,639.9 1485.6,639.2 1487.3,638.6 1488.7,639.0 1490.0,640.2 1492.1,643.0 1493.5,644.6 1495.6,645.7 1496.9,645.9 1498.4,645.9 1500.1,646.0 1502.0,646.6 1504.1,647.0 1506.2,646.8 1508.4,646.1 1510.7,643.8 1513.0,643.1 1515.3,644.6 1517.6,644.8 1519.8,644.4 1521.9,643.1 1523.9,641.7 1525.8,642.8 1528.1,644.2 1530.3,644.2 1532.4,644.1 1534.5,643.7 1536.5,643.8 1538.5,645.6 1540.6,646.5 1542.7,645.1 1545.0,644.7 1546.9,645.6 1548.9,645.7 1551.0,644.8 1553.2,643.8 1555.4,642.7 1557.6,642.5 1559.8,642.6 1562.0,641.8 1564.1,640.9 1566.1,639.9 1568.0,639.0 1569.7,640.2 1571.2,641.5 1572.5,641.9 1574.6,641.4 1575.9,642.2 1578.0,643.8 1579.4,644.1 1581.1,645.1 1583.1,646.5 1585.3,647.8 1587.6,648.9 1590.0,648.7 1592.5,648.4 1595.0,648.6 1597.4,648.2 1599.7,647.2 1601.9,647.2 1603.8,647.1 1605.5,646.0 1607.5,644.2 1609.1,642.5 1610.6,640.7 1611.9,638.9 1613.3,637.4 1614.8,636.1 1616.5,634.8 1618.0,633.7 1619.5,632.6 1621.1,631.5 1622.8,630.5 1624.5,629.4 1626.3,628.4 1628.1,627.4 1630.0,626.5 1631.8,625.6 1633.8,624.7 1635.7,623.8 1637.5,623.0 1639.4,622.2 1641.3,621.4 1643.3,620.6 1645.4,619.8 1647.4,619.0 1649.5,618.3 1651.6,617.6 1653.7,617.0 1655.7,616.5 1657.7,616.1 1659.6,615.7 1661.4,615.5 1663.2,615.5 1665.5,615.8 1667.7,616.4 1669.8,617.3 1671.8,618.3 1673.8,619.3 1675.8,620.1 1677.8,620.8 1679.7,621.0 1681.9,620.2 1684.1,620.2 1686.2,619.9 1688.4,619.2 1690.5,617.7 1692.7,616.8 1694.7,617.0 1696.8,617.4 1699.0,617.6 1701.1,618.1 1703.2,618.6 1705.2,619.0 1707.0,619.2 1708.8,618.2 1710.5,616.1 1712.1,613.8 1713.6,612.3 1715.1,611.3 1716.5,610.9 1718.2,611.5 1719.9,613.0 1721.4,614.7 1722.9,615.5 1724.5,614.4 1725.9,612.5 1727.6,610.7 1729.2,608.8 1731.0,606.5 1733.0,605.2 1735.0,605.1 1737.1,604.7 1739.1,604.3 1741.1,604.8 1743.2,606.2 1745.4,607.6 1747.6,608.9 1749.8,609.6 1751.7,609.8 1753.8,609.9 1755.9,609.8 1758.0,610.5 1760.1,611.3 1762.1,610.8 1764.0,610.5 1765.7,611.8 1767.5,613.8 1769.2,615.6 1770.6,617.4 1772.1,619.1 1773.6,620.7 1775.2,621.7 1777.1,621.9 1779.0,621.4 1781.0,620.5 1783.0,619.6 1784.8,619.2 1786.8,619.9 1788.6,621.4 1790.5,622.7 1792.7,623.6 1794.5,623.9 1796.4,624.0 1798.4,624.2 1800.6,624.1 1802.7,623.5 1804.9,623.0 1807.0,622.7 1809.0,622.8 1811.0,622.5 1812.9,622.0 1815.0,621.4 1817.0,620.8 1819.0,620.1 1820.9,619.4 1822.9,618.6 1824.9,617.8 1827.0,616.9 1829.0,616.0 1831.0,615.0 1833.0,614.0 1835.0,612.9 1836.9,611.8 1838.7,610.6 1840.4,609.4 1842.0,608.2 1843.6,607.0 1845.2,605.6 1846.7,604.3 1848.2,602.8 1849.8,601.2 1851.4,599.5 1852.6,598.1 1853.8,596.6 1855.1,595.0 1856.3,593.3 1857.6,591.6 1858.9,589.8 1860.2,587.9 1861.5,586.1 1862.8,584.2 1864.0,582.4 1865.3,580.6 1866.6,578.8 1867.9,577.1 1869.2,575.6 1870.5,574.1 1872.1,572.4 1873.7,570.8 1875.4,569.2 1877.0,567.7 1878.7,566.2 1880.3,564.8 1881.9,563.5 1883.5,562.2 1884.9,561.0 1886.3,559.8 1888.0,558.4 1889.6,557.2 1891.1,556.0 1892.7,554.8 1894.4,553.4 1895.8,552.3 1897.3,551.1 1898.9,549.9 1900.6,548.6 1902.3,547.2 1904.0,545.8 1905.6,544.4 1907.3,543.0 1908.8,541.5 1910.2,540.0 1911.6,538.3 1912.9,536.6 1914.2,534.8 1915.4,533.0 1916.6,531.2 1917.7,529.3 1918.8,527.5 1919.9,525.7 1921.0,524.0 1922.2,522.1 1923.4,520.1 1924.6,518.2 1925.7,516.3 1926.8,514.5 1927.9,512.7 1929.0,511.0 1930.3,509.1 1931.5,507.4 1932.8,505.8 1933.9,504.0 1935.0,502.0 1935.8,500.3 1936.5,498.4 1937.1,496.4 1937.7,494.4 1938.3,492.3 1938.9,490.2 1939.4,488.1 1940.0,486.0 1940.6,483.9 1941.1,481.7 1941.6,479.4 1942.1,477.2 1942.6,475.0 1943.1,472.8 1943.6,470.7 1944.2,468.6 1944.8,466.5 1945.5,464.5 1946.2,462.5 1946.9,460.5 1947.6,458.6 1948.3,456.8 1949.0,455.0 1949.8,453.0 1950.6,451.0 1951.3,449.2 1952.3,447.5 1953.4,446.0 1955.1,444.5 1957.1,443.1 1959.1,442.1 1961.0,441.5 1963.6,441.5 1966.0,442.5 1967.6,443.8 1969.2,445.5 1970.9,447.5 1972.6,449.5 1974.1,450.9 1975.7,452.4 1977.3,453.9 1979.0,455.4 1980.5,457.1 1982.0,458.8 1983.2,460.6 1984.2,462.5 1985.2,464.6 1986.2,466.7 1987.2,468.7 1988.3,470.5 1989.5,472.0 1991.2,473.5 1993.0,474.7 1994.9,475.7 1996.8,476.6 1998.8,477.6 2000.6,478.6 2002.5,479.8 2004.5,480.9 2006.5,481.8 2008.3,482.3 2010.1,482.3 2011.9,481.2 2013.6,479.2 2015.2,476.8 2016.7,474.4 2018.2,472.6 2019.5,472.0 2020.8,472.6 2022.0,474.1 2023.1,476.2 2024.1,478.7 2025.1,481.4 2025.6,482.8 2026.0,484.4 2026.3,486.2 2026.7,488.1 2027.0,490.1 2027.3,492.2 2027.6,494.4 2027.8,496.7 2028.1,499.0 2028.3,501.3 2028.6,503.7 2028.8,506.0 2029.1,508.4 2029.3,510.6 2029.6,512.9 2029.8,515.0 2030.1,517.1 2030.5,519.0 2030.8,520.8 2031.3,523.3 2031.8,526.0 2032.3,528.7 2032.7,531.3 2033.2,533.9 2033.8,536.2 2034.4,538.2 2035.0,539.8 2035.7,540.9 2036.4,541.4 2038.2,540.8 2040.1,538.7 2042.0,535.8 2042.6,534.5 2043.2,532.8 2043.7,530.8 2044.3,528.5 2044.8,526.0 2045.3,523.4 2045.7,520.7 2046.2,518.0 2046.6,515.3 2047.1,512.7 2047.5,510.3 2048.0,508.0 2048.5,506.1 2048.9,504.4 2049.4,503.2 2050.0,502.3 2050.5,502.0 2051.4,502.4 2052.3,503.7 2053.3,505.7 2054.2,508.1 2055.2,510.6 2056.1,513.1 2057.0,515.2 2057.8,517.1 2058.6,518.9 2059.4,520.8 2060.2,522.7 2061.0,524.6 2061.8,526.4 2062.7,528.3 2063.7,530.1 2064.7,531.9 2065.8,533.6 2066.9,535.4 2068.1,537.2 2069.1,539.2 2070.2,541.4 2070.9,543.1 2071.6,545.0 2072.2,547.0 2072.8,549.2 2073.4,551.4 2074.0,553.7 2074.6,556.0 2075.2,558.3 2075.8,560.5 2076.5,562.7 2077.2,564.7 2077.9,566.5 2078.7,568.2 2079.6,569.6 2081.0,571.2 2082.6,572.4 2084.2,573.4 2085.9,574.4 2087.5,575.5 2089.0,577.1 2090.0,578.5 2090.9,580.2 2091.8,582.0 2092.6,584.1 2093.5,586.2 2094.3,588.4 2095.1,590.6 2095.9,592.8 2096.7,594.9 2097.6,596.8 2098.4,598.6 2099.3,600.2 2100.2,601.5 2102.0,603.4 2103.7,604.7 2105.6,605.9 2107.7,607.1 2109.4,608.1 2111.1,609.3 2113.0,610.4 2114.9,611.5 2116.9,612.4 2118.9,613.2 2120.9,613.7 2123.0,613.8 2125.1,613.5 2127.3,613.0 2129.5,612.5 2131.7,612.0 2133.8,611.7 2135.9,611.8 2137.9,612.3 2139.7,613.0 2141.6,614.0 2143.4,615.0 2145.3,616.2 2147.1,617.3 2149.0,618.4 2150.9,619.5 2152.8,620.8 2154.8,622.3 2156.8,623.7 2158.7,624.9 2160.6,626.0 2162.4,626.7 2164.0,626.9 2166.1,626.5 2168.1,625.5 2169.9,624.1 2171.5,622.2 2172.4,620.8 2173.1,619.1 2173.7,617.1 2174.2,615.0 2174.7,612.7 2175.2,610.4 2175.6,608.0 2176.1,605.7 2176.6,603.5 2177.2,601.5 2177.9,599.4 2178.6,597.0 2179.3,594.5 2180.0,592.1 2180.8,589.8 2181.6,587.7 2182.3,586.1 2183.1,585.0 2183.8,584.6 2185.0,585.2 2186.1,587.0 2187.3,589.4 2188.4,592.1 2188.9,593.5 2189.4,595.1 2189.9,596.9 2190.3,598.9 2190.7,601.0 2191.2,603.1 2191.6,605.4 2192.0,607.7 2192.4,610.0 2192.9,612.3 2193.3,614.5 2193.8,616.7 2194.3,618.8 2194.8,620.7 2195.4,622.4 2196.0,624.0 2197.0,626.4 2198.1,628.6 2199.2,630.7 2200.4,632.5 2201.8,634.0 2203.5,635.3 2205.2,636.1 2207.1,636.7 2209.1,637.1 2211.3,637.3 2213.5,637.4 2215.8,637.4 2218.1,637.3 2220.3,637.2 2222.4,637.1 2224.5,636.8 2226.7,636.5 2228.9,636.1 2231.0,635.6 2233.2,635.1 2235.3,634.5 2237.2,634.0 2239.1,633.4 2241.2,632.7 2243.1,631.8 2244.9,630.9 2246.7,630.0 2248.5,629.3 2250.4,628.7 2252.7,628.5 2255.1,628.6 2257.5,628.7 2259.7,628.6 2261.7,627.8 2263.0,626.7 2264.1,625.1 2265.1,623.3 2266.0,621.3 2266.8,619.1 2267.6,616.9 2268.4,614.8 2269.2,612.8 2270.0,610.7 2270.7,608.4 2271.4,605.9 2272.0,603.5 2272.7,601.3 2273.3,599.5 2274.0,598.3 2274.8,597.8 2275.8,598.6 2276.8,600.8 2277.9,603.5 2279.1,605.8 2280.4,607.1 2282.1,607.1 2284.0,606.3 2285.9,605.0 2287.9,603.4 2289.2,602.2 2290.4,600.8 2291.7,599.1 2293.0,597.2 2294.3,595.3 2295.7,593.3 2297.0,591.4 2298.4,589.6 2299.7,587.9 2301.1,586.5 2303.2,584.8 2305.6,583.1 2308.1,581.5 2310.2,580.2 2311.7,579.3 2312.3,579.0"/>
<polyline class="c" stroke="#ff00ff" points="221.0,884.0 221.0,867.0 221.8,867.1 224.0,867.3 226.9,867.6 230.0,867.9 231.4,868.0 233.0,868.1 234.7,868.2 236.5,868.3 238.5,868.4 240.5,868.5 242.6,868.6 244.8,868.7 247.0,868.8 249.2,869.0 251.5,869.1 253.7,869.2 255.9,869.3 258.2,869.4 260.3,869.6 262.4,869.7 264.5,869.8 266.4,870.0 268.5,870.2 270.5,870.4 272.5,870.6 274.4,870.8 276.3,871.0 278.2,871.3 280.1,871.5 282.0,871.8 283.9,872.0 285.9,872.2 287.9,872.4 290.0,872.6 292.3,872.8 294.6,873.0 296.3,873.1 298.0,873.2 299.7,873.3 301.5,873.4 303.4,873.5 305.3,873.6 307.2,873.7 309.2,873.8 311.2,873.9 313.2,874.0 315.3,874.1 317.3,874.2 319.4,874.3 321.5,874.4 323.6,874.4 325.8,874.5 327.9,874.6 330.1,874.6 332.2,874.7 334.3,874.8 336.5,874.8 338.6,874.8 340.7,874.9 342.8,874.9 344.9,874.9 347.0,875.0 349.0,875.0 351.1,875.0 353.0,875.0 355.0,875.0 357.1,875.0 359.2,875.0 361.4,875.0 363.5,875.0 365.7,875.0 367.9,874.9 370.0,874.9 372.2,874.9 374.4,874.9 376.6,874.8 378.7,874.8 380.9,874.8 383.0,874.7 385.1,874.6 387.2,874.6 389.2,874.5 391.3,874.4 393.2,874.3 395.2,874.2 397.1,874.0 398.9,873.9 400.8,873.8 402.5,873.6 404.2,873.4 405.8,873.2 407.4,873.0 409.8,872.6 412.1,872.3 414.2,871.9 416.2,871.4 418.1,871.0 419.9,870.5 421.8,869.9 423.7,869.3 425.6,868.6 427.6,867.9 429.4,867.2 431.2,866.4 433.0,865.6 434.8,864.7 436.6,863.8 438.4,862.8 440.3,861.8 442.1,860.8 444.0,859.8 445.9,858.8 447.8,857.8 449.7,856.8 451.7,855.8 453.5,854.9 455.3,854.0 457.1,853.1 459.0,852.2 460.9,851.2 462.8,850.3 464.7,849.3 466.6,848.3 468.6,847.4 470.5,846.4 472.5,845.5 474.4,844.6 476.4,843.7 478.3,842.9 480.2,842.1 482.1,841.4 484.0,840.7 486.0,840.0 488.1,839.4 490.1,838.8 492.1,838.3 494.1,837.8 496.2,837.3 498.2,836.9 500.2,836.4 502.2,836.0 504.2,835.6 506.2,835.2 508.2,834.7 510.2,834.2 512.2,833.7 514.2,833.1 516.3,832.5 518.4,831.9 520.5,831.3 522.6,830.6 524.7,830.0 526.8,829.3 528.8,828.7 530.9,828.1 532.9,827.5 534.9,826.9 536.8,826.4 538.6,826.0 540.4,825.6 542.6,825.2 544.7,824.8 546.8,824.5 548.8,824.2 550.7,824.0 552.6,823.8 554.6,823.7 556.5,823.6 558.7,823.5 560.9,823.5 563.2,823.5 565.3,823.6 567.4,823.7 569.1,823.9 570.6,824.2 573.7,825.6 574.8,826.0 576.1,826.5 577.7,827.1 579.4,827.7 581.3,828.3 583.4,829.0 585.5,829.8 587.8,830.5 590.1,831.3 592.5,832.1 594.8,832.9 597.2,833.7 599.4,834.5 601.7,835.2 603.8,835.9 605.8,836.6 607.8,837.3 609.9,838.0 611.9,838.7 614.0,839.4 616.0,840.1 618.0,840.7 620.0,841.4 622.0,842.1 624.0,842.7 625.9,843.4 627.8,844.0 629.7,844.6 631.5,845.2 633.3,845.8 635.4,846.5 637.4,847.2 639.3,847.8 641.2,848.9 643.1,849.2 645.0,849.6 647.0,850.2 649.2,850.5 651.6,850.6 653.2,851.1 654.8,851.7 656.5,852.2 658.3,852.7 660.2,853.0 662.1,852.9 664.0,852.8 666.0,853.6 668.0,854.4 670.1,854.7 672.1,855.0 674.3,854.8 676.4,854.8 678.5,855.5 680.7,856.1 682.8,856.3 684.9,856.6 687.1,857.1 689.2,857.4 691.3,857.4 693.4,857.9 695.4,858.5 697.4,858.9 699.4,859.3 701.5,859.3 703.5,859.1 705.6,859.4 707.8,859.9 709.9,860.8 712.0,861.7 714.2,862.4 716.3,863.0 718.5,862.8 720.6,862.9 722.7,863.5 724.8,864.1 726.8,864.6 728.9,865.0 730.8,865.2 732.8,865.5 734.6,865.9 736.5,866.3 738.2,866.6 739.9,866.9 741.6,867.3 743.1,867.6 745.6,868.2 747.9,868.8 750.0,869.0 752.0,869.2 754.0,869.6 755.9,869.9 757.9,870.4 760.0,870.9 762.1,870.4 764.2,869.8 766.3,870.2 768.4,870.4 770.6,870.4 772.8,870.2 775.0,869.8 777.4,869.5 779.3,869.6 781.3,870.0 783.3,870.6 785.4,870.7 787.5,870.5 789.6,870.6 791.8,870.8 794.0,871.2 796.2,871.7 798.4,872.1 800.5,872.2 802.7,871.8 804.8,871.5 806.9,871.6 809.1,871.6 811.3,871.5 813.5,871.5 815.7,871.7 817.9,871.2 820.1,870.6 822.3,870.6 824.4,870.5 826.5,869.5 828.5,868.8 830.4,868.5 832.3,868.3 834.6,868.1 836.8,867.9 838.9,867.6 841.0,867.0 843.0,866.1 845.0,865.2 846.9,864.3 848.8,863.3 850.6,862.1 852.4,860.6 854.1,859.2 855.8,857.7 857.5,855.9 859.1,854.3 860.8,853.5 862.5,853.5 864.2,854.2 865.9,855.1 867.7,856.4 869.4,857.6 871.1,858.7 872.9,860.1 874.6,861.6 876.3,862.7 878.5,864.1 880.7,865.1 882.8,865.6 885.0,865.9 887.3,866.2 889.5,865.8 891.8,864.7 894.1,863.7 896.4,862.8 898.7,862.5 901.0,862.9 902.7,863.7 904.3,864.8 905.9,865.6 907.5,866.5 909.1,867.8 910.9,869.1 912.7,870.3 914.7,871.1 916.4,871.6 918.2,872.0 919.9,872.2 921.8,872.4 923.7,872.5 925.6,872.9 927.7,873.3 929.8,872.8 932.0,872.1 934.4,871.9 936.9,872.1 939.5,873.1 942.2,873.3 943.6,873.2 945.0,873.3 946.6,873.4 948.1,873.4 949.8,873.1 951.4,872.7 953.2,872.8 955.0,873.2 956.8,873.4 958.7,873.4 960.6,873.2 962.5,872.6 964.5,872.3 966.6,872.7 968.6,873.0 970.8,873.0 972.9,873.0 975.0,872.8 977.2,872.7 979.4,872.5 981.7,872.3 983.9,872.0 986.2,872.0 988.4,872.0 990.7,871.9 993.0,871.7 995.3,871.5 997.6,871.8 999.9,872.2 1002.3,872.0 1004.6,871.9 1006.9,872.1 1009.2,872.0 1011.5,871.5 1013.7,871.8 1016.0,872.2 1018.3,872.1 1020.5,872.0 1022.7,872.0 1024.9,872.1 1027.1,872.0 1029.2,872.0 1031.3,871.9 1033.4,871.8 1035.4,871.6 1037.5,871.3 1039.4,871.0 1041.4,871.2 1043.3,871.5 1045.1,871.4 1046.9,871.2 1048.7,871.0 1050.4,871.1 1052.0,871.1 1054.4,871.3 1056.6,871.4 1058.8,871.3 1061.0,871.3 1063.1,871.2 1065.1,871.3 1067.0,871.6 1069.0,871.6 1070.9,871.5 1072.7,871.3 1074.6,871.2 1076.4,871.1 1078.2,871.1 1080.1,871.1 1081.9,871.3 1083.8,871.6 1085.6,871.5 1087.6,871.3 1089.5,871.4 1091.5,871.6 1093.5,871.4 1095.6,871.2 1097.8,871.1 1100.0,871.0 1101.8,871.1 1103.5,871.3 1105.4,871.4 1107.2,871.5 1109.1,871.4 1111.0,871.1 1113.0,871.1 1114.9,871.4 1116.9,871.6 1118.9,871.6 1121.0,871.6 1123.0,871.5 1125.1,871.5 1127.1,871.5 1129.2,871.3 1131.3,870.8 1133.4,870.9 1135.5,871.2 1137.7,871.4 1139.8,871.5 1141.9,871.1 1144.0,870.7 1146.2,870.8 1148.3,870.8 1150.4,870.8 1152.5,870.8 1154.6,871.0 1156.7,871.0 1158.8,870.9 1160.9,870.9 1163.0,870.9 1165.0,871.0 1167.0,871.1 1169.0,871.0 1171.0,870.6 1173.0,870.4 1174.9,870.4 1176.8,870.4 1178.7,870.4 1180.6,870.4 1182.4,870.3 1184.6,870.3 1186.8,870.2 1189.0,870.4 1191.1,870.8 1193.2,870.9 1195.3,870.8 1197.3,870.5 1199.3,870.1 1201.3,870.0 1203.3,870.2 1205.3,870.1 1207.3,870.0 1209.2,869.9 1211.2,869.8 1213.1,869.8 1215.1,869.8 1217.1,869.8 1219.0,869.9 1221.0,869.9 1223.0,869.8 1225.0,869.7 1227.0,869.5 1229.0,869.3 1231.1,869.2 1233.2,869.1 1235.3,869.2 1237.4,869.1 1239.3,868.9 1241.2,869.0 1243.1,869.1 1245.0,869.2 1246.9,869.2 1248.8,869.2 1250.8,868.9 1252.7,868.7 1254.6,868.5 1256.5,868.4 1258.5,868.4 1260.4,868.4 1262.3,868.4 1264.3,868.5 1266.3,868.5 1268.2,868.6 1270.2,868.6 1272.2,868.7 1274.2,868.4 1276.2,868.2 1278.3,868.4 1280.3,868.5 1282.3,868.3 1284.4,868.2 1286.5,868.1 1288.6,867.9 1290.7,867.9 1292.8,867.8 1295.0,867.8 1297.1,867.9 1299.3,868.0 1301.5,867.9 1303.8,867.7 1306.0,867.8 1307.8,867.9 1309.6,867.7 1311.4,867.6 1313.3,867.5 1315.2,867.4 1317.2,867.4 1319.1,867.5 1321.1,867.6 1323.1,867.6 1325.1,867.5 1327.2,867.1 1329.3,867.1 1331.4,867.2 1333.5,867.3 1335.6,867.3 1337.7,867.4 1339.8,867.6 1342.0,867.7 1344.2,867.6 1346.3,867.3 1348.5,867.1 1350.7,867.4 1352.9,867.5 1355.1,867.5 1357.3,867.2 1359.4,866.9 1361.6,866.9 1363.8,867.0 1366.0,866.8 1368.1,866.7 1370.3,867.0 1372.5,867.3 1374.6,867.2 1376.7,867.2 1378.8,867.3 1380.9,867.3 1383.0,867.3 1385.1,867.2 1387.1,867.2 1389.1,867.1 1391.1,867.2 1393.1,867.1 1395.1,867.1 1397.0,866.9 1398.9,866.7 1400.8,866.1 1402.6,866.8 1404.4,867.1 1406.2,866.4 1407.9,865.7 1409.6,865.8 1411.3,866.0 1412.9,866.5 1414.5,867.2 1416.0,867.9 1418.5,866.6 1420.9,865.9 1423.3,866.1 1425.5,866.1 1427.8,866.2 1429.9,867.3 1432.0,868.5 1434.0,867.5 1436.1,866.6 1438.0,866.5 1440.0,866.3 1441.9,867.5 1443.8,868.6 1445.7,868.0 1447.5,867.2 1449.4,867.7 1451.3,868.8 1453.2,869.1 1455.1,869.0 1457.0,869.1 1459.2,869.5 1461.5,869.8 1463.8,870.1 1466.2,869.6 1468.5,869.3 1470.9,869.7 1473.2,869.4 1475.5,868.2 1477.7,869.0 1479.9,870.3 1481.9,870.2 1483.8,870.0 1485.6,870.5 1487.3,871.0 1488.7,871.2 1490.0,871.1 1492.1,871.6 1493.5,873.8 1495.6,875.9 1496.9,876.5 1498.4,876.8 1500.1,877.6 1502.0,875.8 1504.1,873.8 1506.2,874.2 1508.4,874.6 1510.7,874.9 1513.0,875.2 1515.3,875.6 1517.6,874.5 1519.8,872.8 1521.9,872.3 1523.9,871.9 1525.8,871.9 1528.1,872.0 1530.3,872.8 1532.5,873.5 1534.6,873.7 1536.6,873.6 1538.7,872.8 1540.7,872.2 1542.8,872.1 1545.0,872.0 1547.0,872.1 1549.1,872.2 1551.3,872.3 1553.5,872.6 1555.7,872.9 1557.9,872.4 1560.0,871.8 1562.0,872.6 1563.8,873.4 1565.5,873.9 1567.0,874.2 1568.9,872.6 1570.4,869.5 1571.7,866.5 1572.8,864.9 1574.0,864.8 1574.9,866.0 1575.7,868.3 1576.3,870.9 1577.1,873.2 1578.0,875.0 1579.4,875.7 1581.1,876.5 1583.1,877.6 1585.4,877.8 1587.7,877.3 1590.1,876.6 1592.4,876.0 1594.5,875.7 1596.5,876.2 1598.4,877.3 1600.2,878.7 1602.0,880.2 1603.8,881.4 1605.5,881.9 1606.9,881.7 1608.2,880.6 1609.5,878.0 1610.7,875.1 1612.0,872.1 1613.4,870.0 1614.9,868.2 1616.5,868.5 1618.1,867.5 1619.8,866.6 1621.6,865.9 1623.5,865.2 1625.4,864.5 1627.4,863.9 1629.4,863.4 1631.5,862.8 1633.6,862.2 1635.7,861.6 1637.5,861.0 1639.4,860.4 1641.4,859.7 1643.4,859.1 1645.4,858.4 1647.5,857.7 1649.6,857.0 1651.7,856.4 1653.7,855.9 1655.7,855.5 1657.7,855.1 1659.6,854.9 1661.5,854.8 1663.2,854.8 1665.5,855.2 1667.7,856.1 1669.8,857.2 1671.8,858.4 1673.8,859.6 1675.7,860.6 1677.7,861.3 1679.7,861.6 1681.6,861.5 1683.6,861.3 1685.5,860.1 1687.4,858.5 1689.3,857.0 1691.2,855.5 1693.0,854.6 1694.7,854.3 1696.9,854.6 1698.9,855.6 1700.9,857.1 1702.9,858.7 1704.9,859.2 1706.6,858.3 1708.4,856.6 1710.2,854.3 1711.9,852.0 1713.6,850.2 1715.2,849.0 1716.6,848.7 1718.3,849.9 1719.8,852.4 1721.2,855.2 1722.5,856.6 1723.6,855.7 1724.5,853.2 1725.5,849.9 1726.9,847.1 1728.6,845.4 1730.5,844.9 1732.7,844.2 1734.9,842.5 1737.1,841.7 1739.0,841.8 1741.0,842.1 1743.0,842.5 1745.1,843.3 1747.0,844.5 1748.9,845.4 1751.2,846.5 1753.4,847.6 1755.6,848.5 1757.7,849.1 1760.1,848.6 1762.5,848.0 1765.0,848.1 1766.6,849.1 1768.3,850.6 1770.0,851.9 1771.7,853.4 1773.4,855.4 1775.1,857.0 1776.7,857.8 1778.6,857.3 1780.4,855.7 1782.1,853.2 1783.9,851.0 1785.5,850.2 1787.0,850.9 1788.2,852.7 1789.5,855.0 1791.0,857.2 1792.8,858.9 1794.5,859.8 1796.4,860.4 1798.5,860.2 1800.7,860.0 1803.0,860.0 1805.3,859.6 1807.6,858.9 1809.8,857.7 1811.9,857.1 1814.1,856.7 1816.2,856.2 1818.3,855.7 1820.4,855.2 1822.4,854.7 1824.4,854.0 1826.5,853.4 1828.6,852.7 1830.7,852.0 1832.9,851.2 1835.0,850.4 1837.1,849.5 1839.1,848.6 1841.2,847.5 1843.1,846.4 1844.9,845.2 1846.7,844.0 1848.6,842.7 1850.4,841.3 1852.2,839.9 1854.0,838.6 1855.8,837.3 1857.6,836.0 1859.5,834.7 1861.3,833.4 1863.1,832.1 1865.0,830.8 1866.8,829.5 1868.6,828.2 1870.5,827.0 1872.3,825.8 1874.1,824.7 1876.0,823.7 1877.8,822.6 1879.6,821.5 1881.5,820.5 1883.3,819.3 1885.1,818.2 1887.0,817.0 1888.8,815.8 1890.7,814.6 1892.5,813.3 1894.4,812.0 1896.2,810.7 1898.0,809.4 1899.8,808.0 1901.5,806.6 1903.2,805.1 1905.0,803.4 1906.7,801.8 1908.4,800.2 1910.0,798.6 1911.6,797.2 1913.1,795.9 1914.4,794.8 1916.4,793.6 1918.1,792.7 1920.0,791.4 1921.3,790.2 1922.7,788.9 1924.2,787.3 1925.6,785.7 1927.1,783.9 1928.6,782.1 1930.0,780.2 1931.3,778.3 1932.4,776.6 1933.4,774.9 1934.3,773.0 1935.3,771.2 1936.2,769.3 1937.1,767.3 1937.9,765.4 1938.8,763.4 1939.7,761.4 1940.6,759.5 1941.5,757.6 1942.3,755.6 1943.1,753.6 1943.9,751.6 1944.7,749.5 1945.5,747.5 1946.3,745.5 1947.1,743.6 1948.0,741.8 1949.0,740.2 1950.0,738.8 1951.4,737.1 1952.9,735.6 1954.5,734.2 1956.1,733.1 1957.7,732.1 1959.4,731.3 1961.7,730.7 1964.1,730.5 1966.5,730.5 1968.8,730.4 1971.3,729.9 1973.7,729.4 1976.3,729.5 1977.8,730.1 1979.4,731.1 1981.1,732.4 1982.8,733.8 1984.5,735.3 1986.2,736.7 1987.9,737.9 1989.5,738.8 1991.9,739.6 1994.2,740.1 1996.5,740.4 1998.8,740.7 2001.2,741.2 2003.5,741.7 2005.9,741.9 2008.2,741.7 2010.2,740.7 2012.1,739.0 2014.1,737.2 2015.9,735.7 2017.6,735.1 2019.6,735.5 2021.5,736.8 2023.2,738.8 2023.9,740.0 2024.5,741.5 2025.0,743.3 2025.5,745.2 2025.9,747.4 2026.2,749.6 2026.6,751.9 2026.9,754.3 2027.3,756.6 2027.6,758.9 2028.0,761.1 2028.4,763.2 2028.9,765.1 2029.5,767.6 2030.1,770.1 2030.7,772.7 2031.2,775.2 2031.9,777.5 2032.6,779.5 2033.5,781.0 2034.5,782.0 2036.5,782.6 2038.9,782.2 2041.1,781.1 2042.1,780.0 2043.1,778.3 2044.1,776.1 2045.1,773.7 2046.0,771.1 2046.9,768.5 2047.8,766.0 2048.7,763.8 2049.6,762.0 2050.5,760.9 2051.4,760.4 2052.5,760.8 2053.5,762.1 2054.6,763.9 2055.6,766.1 2056.6,768.5 2057.7,770.7 2058.9,772.6 2060.1,774.2 2061.5,775.7 2062.8,777.2 2064.2,778.7 2065.6,780.3 2066.9,782.0 2068.3,783.9 2069.2,785.4 2070.2,787.1 2071.1,789.0 2072.0,790.9 2072.9,792.9 2073.8,795.0 2074.7,797.1 2075.6,799.2 2076.5,801.3 2077.5,803.3 2078.4,805.2 2079.4,807.0 2080.4,808.7 2081.4,810.2 2083.0,812.1 2084.6,813.8 2086.3,815.4 2088.0,816.8 2089.7,818.2 2091.3,819.7 2092.7,821.4 2093.9,823.3 2095.0,825.3 2096.0,827.4 2097.0,829.5 2097.9,831.5 2099.0,833.2 2100.2,834.6 2101.9,835.8 2103.8,836.6 2105.7,837.3 2107.7,838.3 2109.2,839.4 2110.7,840.8 2112.2,842.3 2113.7,843.9 2115.4,845.4 2117.1,846.7 2119.0,847.7 2120.8,848.3 2122.8,848.6 2124.9,848.8 2127.1,848.9 2129.3,848.9 2131.5,848.9 2133.7,849.0 2135.8,849.2 2137.8,849.6 2139.8,850.2 2141.7,851.0 2143.6,851.8 2145.4,852.7 2147.3,853.7 2149.1,854.6 2150.9,855.4 2152.8,856.2 2155.0,857.1 2157.3,858.2 2159.6,859.3 2161.9,860.3 2164.0,860.9 2166.0,861.2 2167.8,860.9 2169.3,860.0 2170.5,858.4 2171.5,856.5 2172.5,854.4 2173.4,852.1 2174.3,849.8 2175.3,847.7 2176.3,845.7 2177.2,843.4 2178.1,841.0 2179.0,838.6 2179.9,836.4 2180.9,834.5 2181.8,833.3 2182.8,832.7 2184.7,833.4 2186.6,835.5 2188.4,838.3 2189.1,839.7 2189.8,841.5 2190.4,843.4 2190.9,845.6 2191.5,847.9 2192.0,850.3 2192.5,852.6 2193.1,855.0 2193.7,857.2 2194.4,859.3 2195.1,861.1 2196.0,862.7 2197.3,864.6 2198.7,866.3 2200.1,867.7 2201.7,869.0 2203.4,870.2 2205.3,871.2 2207.0,871.9 2208.9,872.5 2211.0,873.0 2213.1,873.4 2215.3,873.7 2217.5,873.9 2219.8,874.0 2222.0,874.0 2224.1,874.0 2226.2,873.8 2228.3,873.5 2230.4,873.1 2232.6,872.5 2234.7,872.0 2236.8,871.4 2238.9,870.9 2240.9,870.5 2242.9,870.3 2245.2,870.3 2247.4,870.6 2249.7,871.0 2251.9,871.3 2254.0,871.6 2256.0,871.6 2257.9,871.2 2259.7,870.3 2261.4,869.2 2263.0,867.8 2264.5,866.2 2265.9,864.5 2267.3,862.7 2268.4,860.9 2269.4,858.7 2270.3,856.3 2271.1,853.8 2272.0,851.6 2272.9,849.7 2273.8,848.3 2274.8,847.7 2276.2,848.3 2277.6,850.1 2279.1,852.3 2280.7,854.3 2282.3,855.2 2284.1,855.0 2285.9,854.0 2287.8,852.6 2289.8,851.1 2291.7,849.6 2293.3,848.3 2294.9,846.8 2296.5,845.2 2298.1,843.7 2299.7,842.2 2301.4,841.0 2303.0,840.2 2305.7,839.7 2308.8,839.8 2311.3,840.0 2312.3,840.2"/>
<polyline class="c" stroke="#0000ff" points="221.0,1064.0 221.0,1042.0 221.4,1042.0 222.4,1041.9 224.1,1041.9 226.2,1041.8 228.7,1041.8 231.4,1041.7 234.2,1041.7 237.1,1041.7 239.9,1041.8 242.6,1041.9 244.9,1042.0 246.9,1042.2 248.3,1042.5 250.3,1043.7 252.3,1044.9 253.5,1045.1 255.1,1045.3 257.0,1045.4 259.0,1045.4 261.3,1045.3 263.7,1045.2 266.1,1045.1 268.6,1045.0 271.1,1044.9 273.5,1044.8 275.7,1044.7 277.8,1044.6 279.7,1044.7 281.3,1044.7 282.5,1044.9 284.4,1045.7 286.5,1046.5 287.4,1046.6 288.5,1046.8 289.8,1046.9 291.3,1047.1 293.0,1047.2 294.8,1047.3 296.8,1047.4 298.9,1047.5 301.1,1047.6 303.5,1047.7 305.9,1047.7 308.4,1047.8 311.0,1047.9 313.6,1047.9 316.2,1048.0 318.9,1048.0 321.6,1048.0 324.3,1048.0 326.9,1048.0 329.5,1048.0 332.1,1048.0 334.6,1047.9 337.1,1047.9 339.4,1047.8 341.7,1047.8 343.8,1047.7 345.8,1047.6 347.7,1047.5 349.4,1047.3 350.9,1047.2 352.2,1047.0 353.4,1046.9 354.3,1046.7 355.0,1046.5 357.0,1044.9 357.9,1044.7 359.0,1044.5 360.3,1044.3 361.9,1044.2 363.7,1044.2 365.7,1044.1 367.8,1044.1 370.1,1044.1 372.4,1044.1 374.8,1044.1 377.3,1044.2 379.8,1044.2 382.3,1044.2 384.7,1044.3 387.2,1044.3 389.5,1044.3 391.8,1044.3 393.9,1044.2 395.9,1044.1 397.8,1044.0 399.4,1043.9 401.8,1043.6 404.0,1043.3 406.0,1043.0 408.0,1042.7 409.8,1042.3 411.7,1041.9 413.6,1041.4 415.5,1040.9 417.5,1040.3 419.6,1039.6 421.6,1038.9 423.7,1038.2 425.7,1037.4 427.7,1036.5 429.7,1035.7 431.6,1034.8 433.4,1033.9 435.1,1033.0 436.8,1032.0 438.4,1031.0 440.1,1030.0 441.9,1028.9 443.7,1027.9 445.7,1026.8 447.3,1026.0 449.0,1025.2 450.8,1024.3 452.6,1023.4 454.5,1022.6 456.4,1021.7 458.3,1020.8 460.3,1019.9 462.3,1019.0 464.2,1018.2 466.2,1017.3 468.1,1016.4 470.0,1015.6 471.9,1014.7 473.8,1013.8 475.6,1012.9 477.5,1012.0 479.3,1011.1 481.1,1010.2 482.9,1009.4 484.8,1008.5 486.6,1007.6 488.4,1006.8 490.3,1005.9 492.2,1005.1 494.1,1004.3 496.0,1003.6 497.9,1002.9 499.9,1002.2 501.9,1001.6 503.9,1001.0 505.9,1000.4 507.9,999.8 510.0,999.2 512.0,998.6 514.1,998.1 516.1,997.6 518.2,997.0 520.2,996.5 522.3,996.0 524.3,995.5 526.3,995.0 528.3,994.5 530.3,994.0 532.4,993.5 534.4,993.0 536.4,992.5 538.4,992.0 540.5,991.5 542.5,991.1 544.5,990.7 546.5,990.3 548.5,990.0 550.5,989.7 552.5,989.5 554.5,989.3 556.6,989.1 558.7,988.9 560.8,988.8 562.9,988.6 564.9,988.5 567.0,988.5 569.0,988.5 571.0,988.6 573.0,988.7 574.9,988.9 576.8,989.2 578.6,989.5 580.8,990.1 582.8,990.9 584.7,991.8 586.5,992.7 588.3,993.8 590.2,994.9 592.2,995.9 594.3,996.9 596.6,997.8 598.3,998.4 600.1,998.9 601.9,999.5 603.8,1000.0 605.8,1000.5 607.8,1001.0 609.9,1001.5 612.0,1002.0 614.1,1002.4 616.2,1002.9 618.4,1003.4 620.6,1003.8 622.7,1004.3 624.9,1004.7 627.0,1005.2 629.1,1005.7 631.2,1006.1 633.3,1006.6 635.3,1007.1 637.4,1007.5 639.4,1008.0 641.4,1008.0 643.5,1008.8 645.5,1009.2 647.5,1009.4 649.6,1010.3 651.6,1011.4 653.6,1011.4 655.7,1011.1 657.7,1011.7 659.7,1012.5 661.8,1013.1 663.8,1013.8 665.8,1014.0 667.9,1014.1 669.9,1015.0 672.0,1015.9 674.0,1016.0 676.2,1016.0 678.3,1016.3 680.5,1016.6 682.7,1017.2 684.8,1017.6 687.0,1017.7 689.2,1018.2 691.3,1019.0 693.4,1019.5 695.4,1019.8 697.4,1020.5 699.4,1021.5 701.3,1022.0 703.1,1022.4 704.8,1022.7 706.5,1022.9 708.8,1023.2 710.8,1023.4 712.8,1023.8 714.6,1024.6 716.4,1025.3 718.3,1025.8 720.2,1026.4 722.4,1027.0 724.1,1027.4 725.9,1027.9 727.8,1028.4 729.7,1029.3 731.7,1030.3 733.7,1030.4 735.7,1030.3 737.7,1030.6 739.8,1031.0 741.9,1032.0 743.9,1033.1 746.0,1033.2 748.0,1033.2 750.0,1033.8 752.1,1034.4 754.2,1034.0 756.3,1033.8 758.4,1034.3 760.5,1034.6 762.6,1034.4 764.7,1034.2 766.9,1034.3 769.0,1034.4 771.1,1034.3 773.2,1034.2 775.3,1034.0 777.4,1033.8 779.5,1033.5 781.6,1033.7 783.7,1034.0 785.8,1034.7 787.9,1035.4 790.1,1035.7 792.2,1035.9 794.3,1036.1 796.4,1036.1 798.5,1035.7 800.6,1035.5 802.7,1035.8 804.8,1035.9 806.9,1035.9 809.1,1035.6 811.3,1035.2 813.5,1034.9 815.7,1034.6 817.9,1034.0 820.1,1033.3 822.2,1033.0 824.4,1032.6 826.4,1032.2 828.5,1031.7 830.4,1031.0 832.3,1030.4 834.6,1030.6 836.8,1030.7 838.9,1030.5 841.0,1029.9 843.0,1028.9 845.0,1028.4 846.9,1028.5 848.8,1028.2 850.5,1027.1 852.2,1025.6 853.8,1023.7 855.4,1021.7 857.0,1019.7 858.5,1017.7 860.0,1016.0 861.6,1015.6 863.1,1015.8 864.7,1016.3 866.3,1016.8 867.9,1017.8 869.4,1020.1 871.0,1022.5 872.7,1024.5 874.4,1025.9 876.3,1026.7 878.2,1026.9 880.4,1027.1 882.6,1027.7 884.9,1028.3 887.2,1029.0 889.5,1029.2 891.7,1029.1 893.7,1029.0 895.5,1028.9 897.6,1028.1 899.4,1026.7 901.0,1024.9 902.6,1023.3 904.3,1022.5 905.7,1023.1 907.0,1024.4 908.3,1026.4 909.6,1029.1 911.1,1031.8 912.7,1033.8 914.7,1034.5 916.3,1034.8 918.1,1035.9 920.0,1036.8 922.0,1036.4 924.1,1036.0 926.3,1036.6 928.6,1037.0 930.9,1036.9 933.2,1036.9 935.5,1036.9 937.8,1036.6 940.0,1036.3 942.2,1036.6 944.3,1036.8 946.2,1036.3 948.1,1035.9 949.9,1036.3 951.7,1036.7 953.6,1036.6 955.5,1036.3 957.4,1036.6 959.5,1037.1 961.8,1037.2 964.2,1037.1 966.8,1036.8 969.7,1036.7 970.9,1036.7 972.2,1036.7 973.5,1036.5 974.9,1036.2 976.3,1036.0 977.9,1036.0 979.4,1036.0 981.1,1036.2 982.7,1036.6 984.5,1036.8 986.3,1036.8 988.1,1036.7 990.0,1037.0 991.9,1037.2 993.9,1037.0 995.9,1036.8 998.0,1036.4 1000.0,1036.2 1002.2,1036.3 1004.3,1036.5 1006.5,1036.7 1008.8,1036.7 1011.0,1036.6 1013.3,1036.3 1015.6,1036.0 1018.0,1036.3 1020.3,1036.7 1022.7,1036.7 1025.1,1036.5 1027.5,1036.0 1030.0,1036.1 1032.4,1036.3 1034.9,1036.2 1037.4,1036.3 1039.9,1036.5 1042.3,1036.2 1044.8,1036.0 1047.3,1035.9 1049.8,1036.0 1052.3,1036.1 1054.8,1036.4 1057.3,1036.2 1059.8,1035.7 1062.3,1035.6 1064.8,1035.7 1067.3,1036.0 1069.7,1036.2 1072.2,1036.3 1074.6,1036.1 1077.0,1035.9 1079.4,1035.9 1081.7,1036.0 1084.1,1036.3 1086.4,1036.2 1088.7,1036.0 1091.0,1035.6 1093.2,1035.7 1095.4,1036.2 1097.6,1036.0 1099.7,1035.6 1101.8,1035.7 1103.9,1035.7 1105.9,1036.0 1107.9,1036.3 1109.8,1036.1 1111.7,1035.9 1113.6,1036.1 1115.4,1036.3 1117.1,1036.2 1118.8,1035.9 1120.5,1035.9 1122.1,1036.2 1123.6,1036.5 1125.1,1036.4 1126.5,1036.2 1127.8,1036.0 1129.1,1036.1 1130.3,1036.1 1131.5,1036.2 1132.6,1036.3 1133.6,1036.4 1134.5,1036.6 1137.5,1037.0 1139.6,1037.2 1141.3,1037.7 1143.1,1038.2 1145.2,1038.7 1148.2,1039.3 1149.1,1039.3 1150.1,1039.3 1151.1,1039.4 1152.2,1039.3 1153.4,1039.2 1154.6,1039.0 1155.9,1038.9 1157.2,1039.0 1158.5,1039.1 1160.0,1039.3 1161.4,1039.4 1163.0,1039.5 1164.5,1039.6 1166.1,1039.6 1167.8,1039.7 1169.5,1039.8 1171.2,1039.9 1173.0,1039.9 1174.8,1039.8 1176.7,1039.7 1178.6,1039.5 1180.5,1039.4 1182.5,1039.5 1184.5,1039.7 1186.5,1040.0 1188.5,1040.2 1190.6,1039.9 1192.8,1039.8 1194.9,1040.1 1197.1,1040.3 1199.3,1040.4 1201.5,1040.3 1203.7,1040.1 1206.0,1040.1 1208.3,1040.1 1210.6,1040.1 1212.9,1040.0 1215.2,1039.8 1217.6,1040.0 1219.9,1040.3 1222.3,1040.1 1224.7,1039.9 1227.1,1040.2 1229.5,1040.1 1231.9,1039.7 1234.3,1040.0 1236.7,1040.2 1239.1,1040.1 1241.6,1040.0 1244.0,1039.9 1246.4,1039.8 1248.8,1039.6 1251.3,1039.5 1253.7,1039.6 1256.1,1040.0 1258.5,1039.7 1260.9,1039.6 1263.3,1039.8 1265.7,1039.6 1268.0,1039.3 1270.4,1039.2 1272.7,1039.2 1275.0,1039.2 1277.3,1039.5 1279.6,1039.8 1281.9,1039.6 1284.2,1039.3 1286.4,1039.7 1288.6,1039.9 1290.8,1039.6 1292.9,1039.4 1295.1,1039.5 1297.2,1039.5 1299.2,1039.4 1301.3,1039.4 1303.3,1039.6 1305.3,1039.4 1307.2,1039.2 1309.1,1039.2 1311.0,1039.3 1312.9,1039.5 1314.7,1039.7 1316.4,1039.8 1318.1,1039.5 1319.8,1039.2 1322.2,1039.4 1324.5,1039.6 1326.9,1039.4 1329.2,1039.3 1331.5,1039.3 1333.9,1039.2 1336.2,1039.0 1338.4,1039.0 1340.7,1039.2 1343.0,1039.7 1345.2,1039.9 1347.4,1039.8 1349.7,1039.8 1351.8,1039.7 1354.0,1039.7 1356.2,1039.7 1358.3,1039.8 1360.4,1039.8 1362.5,1039.3 1364.6,1039.1 1366.7,1039.3 1368.7,1039.4 1370.7,1039.4 1372.7,1039.4 1374.6,1039.4 1376.6,1039.5 1378.5,1039.7 1380.4,1039.8 1382.2,1039.8 1384.1,1039.7 1385.9,1039.8 1387.6,1039.9 1389.4,1039.7 1391.1,1039.4 1392.8,1039.3 1394.4,1039.6 1396.0,1039.9 1397.6,1039.9 1399.2,1040.0 1400.7,1040.4 1402.2,1040.6 1404.8,1040.8 1407.2,1040.8 1409.6,1041.2 1411.8,1041.7 1413.9,1041.3 1415.9,1040.9 1417.9,1041.9 1419.8,1043.0 1421.7,1042.7 1423.7,1042.3 1425.6,1042.6 1427.6,1043.1 1429.7,1043.6 1431.8,1044.2 1433.9,1044.1 1435.9,1043.9 1438.0,1043.4 1440.1,1042.9 1442.2,1042.8 1444.2,1042.8 1446.3,1042.9 1448.4,1043.2 1450.5,1043.6 1452.7,1044.2 1454.8,1044.8 1457.0,1045.1 1459.0,1045.0 1461.2,1044.6 1463.4,1043.8 1465.7,1043.6 1468.1,1043.6 1470.4,1044.2 1472.8,1044.4 1475.1,1043.5 1477.4,1043.4 1479.6,1043.6 1481.7,1043.3 1483.7,1042.9 1485.6,1043.3 1487.3,1043.9 1488.7,1044.6 1490.0,1045.4 1491.8,1047.4 1492.8,1049.5 1493.9,1051.5 1495.6,1053.1 1496.9,1053.5 1498.4,1053.7 1500.1,1053.9 1502.0,1053.4 1504.0,1052.8 1506.2,1054.0 1508.4,1054.8 1510.7,1053.8 1513.0,1052.5 1515.3,1051.0 1517.6,1050.2 1519.8,1049.8 1521.9,1051.5 1523.9,1053.3 1525.8,1053.4 1528.1,1053.5 1530.3,1053.5 1532.5,1053.4 1534.6,1052.8 1536.6,1052.3 1538.7,1051.9 1540.7,1051.4 1542.8,1051.0 1545.0,1051.0 1547.0,1051.4 1549.1,1051.6 1551.3,1051.5 1553.5,1052.7 1555.7,1054.4 1557.8,1054.6 1560.0,1054.4 1562.0,1054.0 1563.8,1053.5 1565.5,1052.0 1567.0,1050.4 1569.2,1048.1 1571.0,1045.9 1572.5,1044.0 1574.0,1043.4 1575.0,1044.3 1575.7,1046.1 1576.4,1048.7 1577.1,1051.7 1578.1,1054.5 1579.4,1056.9 1581.1,1057.1 1583.1,1055.4 1585.4,1055.4 1587.7,1056.7 1590.1,1056.3 1592.4,1055.9 1594.5,1055.8 1596.5,1056.6 1598.4,1058.7 1600.3,1060.6 1602.1,1060.5 1603.8,1059.9 1605.5,1060.3 1606.8,1060.0 1608.0,1059.1 1609.1,1057.1 1610.2,1054.7 1611.3,1052.1 1612.4,1049.7 1613.6,1047.5 1615.0,1045.6 1616.5,1045.8 1618.1,1044.7 1619.8,1043.7 1621.6,1042.8 1623.4,1042.0 1625.3,1041.3 1627.3,1040.6 1629.4,1039.9 1631.5,1039.2 1633.6,1038.4 1635.7,1037.5 1637.4,1036.7 1639.3,1035.7 1641.1,1034.7 1643.1,1033.6 1645.1,1032.4 1647.1,1031.2 1649.2,1030.0 1651.2,1028.9 1653.3,1027.8 1655.3,1026.8 1657.3,1025.8 1659.2,1025.1 1661.0,1024.4 1662.8,1024.0 1664.4,1023.8 1666.0,1023.8 1668.0,1024.4 1669.9,1025.5 1671.7,1027.0 1673.4,1028.7 1675.0,1030.4 1676.6,1031.9 1678.1,1032.9 1679.7,1033.4 1681.6,1033.4 1683.3,1032.1 1685.0,1030.6 1686.8,1029.3 1688.8,1028.3 1690.7,1028.0 1692.7,1028.5 1694.9,1030.1 1697.1,1031.1 1699.3,1031.3 1701.4,1031.2 1703.4,1030.5 1705.2,1029.7 1707.0,1028.4 1708.8,1027.1 1710.5,1026.0 1712.2,1024.7 1713.8,1022.6 1715.3,1021.1 1716.6,1020.7 1718.0,1021.9 1719.3,1024.2 1720.4,1026.9 1721.4,1029.1 1722.5,1030.2 1723.6,1029.5 1724.7,1027.6 1725.8,1025.1 1727.0,1022.6 1728.4,1020.4 1729.9,1018.4 1731.5,1016.4 1733.3,1015.0 1735.1,1014.0 1737.1,1013.6 1739.1,1013.7 1741.2,1014.0 1743.4,1014.4 1745.7,1016.1 1748.0,1018.3 1750.3,1017.9 1752.3,1017.6 1754.3,1019.0 1756.4,1019.9 1758.6,1019.1 1760.7,1018.7 1762.7,1019.0 1764.6,1019.8 1766.4,1021.4 1768.2,1023.4 1769.8,1025.4 1771.2,1027.5 1772.6,1029.5 1774.0,1031.0 1775.3,1031.9 1776.7,1032.4 1778.6,1031.9 1780.4,1030.1 1782.2,1027.9 1784.0,1026.9 1785.4,1027.7 1786.6,1029.4 1787.9,1031.4 1789.3,1033.0 1790.9,1034.3 1792.8,1035.4 1794.3,1036.3 1796.0,1037.2 1797.9,1037.5 1799.9,1037.7 1801.9,1037.2 1804.1,1036.6 1806.3,1036.5 1808.6,1036.3 1810.9,1034.8 1813.1,1034.2 1815.4,1033.7 1817.5,1033.1 1819.6,1032.5 1821.5,1032.0 1823.3,1031.4 1825.2,1030.7 1827.0,1030.0 1828.9,1029.3 1830.7,1028.6 1832.6,1027.8 1834.4,1026.9 1836.2,1026.0 1838.0,1025.1 1839.9,1024.2 1841.7,1023.2 1843.4,1022.2 1845.2,1021.2 1847.0,1020.1 1848.7,1019.0 1850.3,1017.9 1852.0,1016.8 1853.6,1015.5 1855.3,1014.3 1856.9,1013.0 1858.5,1011.7 1860.1,1010.3 1861.7,1009.0 1863.3,1007.6 1864.9,1006.2 1866.5,1004.8 1868.1,1003.5 1869.7,1002.1 1871.3,1000.7 1872.9,999.4 1874.5,998.1 1876.1,996.8 1877.8,995.5 1879.4,994.3 1881.1,993.0 1882.7,991.7 1884.4,990.4 1886.0,989.2 1887.7,987.9 1889.3,986.6 1891.0,985.3 1892.6,984.0 1894.2,982.8 1895.8,981.5 1897.4,980.2 1899.0,978.8 1900.5,977.5 1902.0,976.2 1903.6,974.8 1905.2,973.3 1906.8,971.8 1908.4,970.3 1910.0,968.8 1911.6,967.3 1913.2,965.8 1914.7,964.3 1916.2,962.8 1917.6,961.3 1919.0,959.8 1920.4,958.4 1921.6,956.9 1922.9,955.5 1924.0,954.2 1925.6,952.2 1927.0,950.3 1928.3,948.4 1929.6,946.6 1930.7,944.8 1931.8,942.9 1933.0,941.0 1934.0,939.3 1934.9,937.6 1935.9,935.9 1936.7,934.2 1937.6,932.4 1938.5,930.6 1939.4,928.7 1940.4,926.7 1941.2,925.0 1942.0,923.2 1942.8,921.3 1943.6,919.3 1944.4,917.3 1945.2,915.3 1946.0,913.2 1946.9,911.2 1947.7,909.2 1948.6,907.3 1949.5,905.4 1950.5,903.6 1951.4,902.0 1952.7,899.9 1954.0,897.9 1955.3,895.9 1956.6,894.0 1958.0,892.3 1959.4,890.7 1960.9,889.3 1962.4,888.2 1964.3,887.2 1966.3,886.5 1968.3,886.0 1970.4,885.7 1972.6,885.5 1974.7,885.3 1976.9,885.3 1979.1,885.3 1981.4,885.5 1983.6,885.8 1985.7,886.3 1987.7,886.9 1989.6,887.7 1991.5,888.5 1993.4,889.5 1995.2,890.7 1997.0,891.9 1998.7,893.3 2000.3,894.9 2001.8,896.7 2003.4,898.5 2004.9,900.3 2006.5,901.9 2008.2,903.2 2010.1,904.2 2012.1,905.0 2014.1,905.6 2016.1,906.2 2017.9,906.9 2019.5,907.9 2020.9,909.2 2022.1,910.7 2023.1,912.4 2024.1,914.2 2025.1,916.3 2025.8,917.9 2026.4,919.9 2026.9,922.0 2027.4,924.4 2028.0,926.8 2028.5,929.2 2029.0,931.6 2029.6,933.9 2030.2,936.0 2030.9,937.9 2031.7,939.5 2032.6,940.7 2034.3,942.2 2036.2,943.2 2038.2,943.7 2040.1,943.5 2041.4,942.7 2042.6,941.1 2043.8,939.0 2045.0,936.7 2046.1,934.4 2047.3,932.5 2048.4,931.0 2049.5,930.4 2051.5,931.0 2053.4,932.8 2055.2,935.1 2056.0,936.5 2056.7,938.2 2057.3,940.1 2057.9,942.1 2058.5,944.2 2059.1,946.3 2059.9,948.3 2060.8,950.1 2061.9,951.8 2063.3,953.4 2064.7,955.0 2066.2,956.5 2067.7,958.0 2069.2,959.6 2070.6,961.3 2072.0,963.2 2073.0,964.9 2074.0,966.8 2075.0,968.8 2076.0,970.9 2076.9,973.1 2077.8,975.3 2078.7,977.5 2079.7,979.5 2080.6,981.4 2081.5,983.1 2082.4,984.6 2083.3,985.8 2085.2,987.2 2087.2,988.1 2089.0,989.5 2089.8,990.8 2090.6,992.4 2091.3,994.3 2091.9,996.4 2092.5,998.6 2093.1,1000.8 2093.8,1002.9 2094.6,1005.0 2095.5,1006.8 2096.5,1008.3 2098.1,1010.0 2099.9,1011.3 2101.8,1012.5 2103.7,1013.5 2105.7,1014.6 2107.7,1015.8 2109.5,1017.1 2111.3,1018.4 2113.1,1019.9 2115.0,1021.2 2116.9,1022.5 2118.8,1023.5 2120.9,1024.3 2122.9,1024.7 2124.9,1024.8 2127.0,1024.6 2129.2,1024.4 2131.4,1024.1 2133.6,1024.0 2135.7,1024.0 2137.8,1024.3 2139.7,1024.9 2141.6,1025.7 2143.5,1026.7 2145.3,1027.9 2147.2,1029.0 2149.0,1030.1 2150.9,1031.2 2152.8,1032.1 2154.7,1032.7 2156.8,1033.2 2159.0,1033.8 2161.2,1034.2 2163.4,1034.6 2165.6,1034.7 2167.7,1034.6 2169.7,1034.3 2171.5,1033.6 2173.0,1032.5 2174.3,1030.9 2175.5,1028.8 2176.6,1026.6 2177.7,1024.2 2178.7,1021.9 2179.7,1019.7 2180.7,1017.9 2181.7,1016.5 2182.8,1015.8 2185.7,1015.9 2188.4,1017.7 2189.3,1018.8 2190.1,1020.3 2190.8,1022.1 2191.6,1024.2 2192.3,1026.4 2193.0,1028.8 2193.7,1031.1 2194.4,1033.4 2195.2,1035.6 2196.0,1037.5 2196.9,1039.0 2197.8,1040.2 2199.5,1041.5 2201.2,1042.2 2203.1,1042.6 2205.3,1043.0 2207.0,1043.3 2208.9,1043.4 2210.9,1043.6 2213.1,1043.6 2215.3,1043.6 2217.5,1043.5 2219.8,1043.4 2222.0,1043.2 2224.1,1043.0 2226.2,1042.7 2228.3,1042.3 2230.5,1041.9 2232.6,1041.4 2234.7,1040.8 2236.8,1040.2 2238.9,1039.6 2240.9,1039.0 2242.9,1038.3 2244.9,1037.6 2246.9,1036.9 2248.9,1036.2 2250.8,1035.4 2252.7,1034.6 2254.5,1033.7 2256.3,1032.8 2257.9,1031.8 2259.7,1030.6 2261.4,1029.3 2263.0,1027.9 2264.5,1026.5 2265.9,1024.9 2267.3,1023.3 2268.5,1021.4 2269.6,1019.2 2270.6,1016.8 2271.6,1014.5 2272.6,1012.5 2273.6,1011.0 2274.8,1010.2 2276.6,1010.7 2278.4,1012.4 2280.3,1014.1 2282.3,1014.9 2284.1,1014.5 2286.0,1013.4 2287.9,1011.8 2289.8,1010.1 2291.7,1008.3 2293.1,1006.8 2294.5,1005.1 2295.9,1003.3 2297.3,1001.3 2298.7,999.5 2300.1,997.8 2301.5,996.3 2303.0,995.2 2305.7,994.2 2308.8,993.6 2311.3,993.4 2312.3,993.3"/>
<polyline class="c" stroke="#ff0000" points="221.0,1269.0 221.0,1250.8 221.3,1250.8 222.1,1250.9 223.5,1250.9 225.2,1251.0 227.3,1251.1 229.6,1251.3 232.2,1251.4 234.9,1251.6 237.6,1251.8 240.4,1252.0 243.2,1252.2 245.8,1252.4 248.2,1252.6 250.3,1252.8 252.4,1253.0 254.5,1253.3 256.5,1253.6 258.6,1253.9 260.6,1254.2 262.6,1254.6 264.6,1254.9 266.6,1255.2 268.6,1255.5 270.6,1255.8 272.5,1256.1 274.5,1256.4 276.5,1256.7 278.6,1256.9 280.6,1257.2 282.6,1257.4 284.6,1257.6 286.6,1257.8 288.6,1258.1 290.6,1258.3 292.6,1258.5 294.6,1258.7 296.6,1258.9 298.6,1259.1 300.6,1259.3 302.7,1259.5 304.7,1259.6 306.7,1259.8 308.8,1260.0 310.8,1260.2 312.8,1260.3 314.8,1260.5 316.8,1260.7 318.8,1260.9 320.8,1261.1 322.7,1261.4 324.5,1261.6 326.4,1261.9 328.2,1262.2 330.1,1262.4 332.1,1262.7 334.2,1262.9 336.4,1263.1 338.9,1263.3 340.4,1263.4 342.0,1263.5 343.8,1263.6 345.6,1263.6 347.6,1263.7 349.6,1263.8 351.7,1263.8 353.9,1263.9 356.1,1264.0 358.4,1264.0 360.8,1264.1 363.1,1264.1 365.5,1264.2 367.9,1264.2 370.3,1264.2 372.7,1264.3 375.1,1264.3 377.5,1264.3 379.9,1264.3 382.2,1264.3 384.4,1264.2 386.6,1264.2 388.7,1264.2 390.8,1264.1 392.8,1264.1 394.6,1264.0 396.4,1263.9 398.1,1263.8 399.6,1263.7 401.0,1263.6 402.3,1263.4 403.4,1263.3 405.9,1262.8 407.7,1262.2 409.3,1261.6 411.4,1260.9 413.0,1260.4 414.9,1259.9 416.8,1259.3 418.8,1258.7 420.9,1258.0 423.1,1257.4 425.3,1256.7 427.4,1256.1 429.5,1255.4 431.6,1254.8 433.6,1254.2 435.6,1253.7 437.7,1253.1 439.7,1252.6 441.7,1252.1 443.7,1251.5 445.7,1250.9 447.7,1250.3 449.7,1249.6 451.7,1248.8 453.6,1248.0 455.4,1247.1 457.3,1246.1 459.1,1245.0 460.9,1244.0 462.7,1242.9 464.6,1241.8 466.4,1240.7 468.2,1239.7 470.1,1238.7 471.9,1237.7 473.7,1236.8 475.5,1235.9 477.2,1235.1 479.0,1234.2 480.7,1233.4 482.5,1232.5 484.3,1231.7 486.2,1230.9 488.1,1230.1 490.0,1229.4 492.0,1228.6 493.8,1227.9 495.7,1227.3 497.6,1226.7 499.6,1226.0 501.6,1225.4 503.6,1224.8 505.6,1224.2 507.7,1223.6 509.8,1223.0 511.9,1222.5 514.0,1221.9 516.0,1221.3 518.1,1220.7 520.2,1220.2 522.2,1219.6 524.2,1219.0 526.3,1218.4 528.4,1217.8 530.5,1217.1 532.6,1216.5 534.7,1215.9 536.8,1215.2 538.8,1214.6 540.9,1214.0 542.9,1213.5 544.9,1213.0 546.9,1212.5 548.8,1212.1 550.7,1211.8 552.5,1211.5 554.7,1211.2 556.8,1211.0 558.7,1210.9 560.7,1210.8 562.6,1210.8 564.5,1210.8 566.5,1211.0 568.5,1211.2 570.6,1211.5 572.5,1211.9 574.3,1212.3 576.2,1212.9 578.1,1213.6 580.1,1214.3 582.1,1215.0 584.1,1215.8 586.1,1216.6 588.1,1217.5 590.2,1218.3 592.3,1219.1 594.4,1219.9 596.6,1220.6 598.4,1221.2 600.2,1221.7 602.0,1222.3 603.9,1222.9 605.8,1223.5 607.7,1224.1 609.6,1224.6 611.6,1225.2 613.6,1225.8 615.5,1226.4 617.5,1227.0 619.5,1227.5 621.5,1228.1 623.5,1228.7 625.5,1229.3 627.4,1229.9 629.4,1230.4 631.4,1231.0 633.3,1231.6 635.2,1232.2 637.2,1232.8 639.1,1233.4 641.0,1233.4 642.9,1234.4 644.8,1235.3 646.8,1236.1 648.7,1236.7 650.6,1236.8 652.5,1237.1 654.5,1238.2 656.4,1239.2 658.3,1239.9 660.2,1240.6 662.2,1240.9 664.1,1241.2 666.0,1241.9 668.0,1242.5 669.9,1242.5 671.9,1242.5 674.0,1243.3 676.2,1244.0 678.3,1244.3 680.5,1244.7 682.6,1245.8 684.8,1246.5 687.0,1246.5 689.1,1246.8 691.2,1247.3 693.3,1248.1 695.4,1249.0 697.4,1249.5 699.4,1249.8 701.3,1250.2 703.1,1250.7 704.8,1250.9 706.5,1250.9 708.8,1251.2 710.8,1251.7 712.7,1252.2 714.6,1252.9 716.4,1253.4 718.3,1253.6 720.2,1253.9 722.4,1254.2 724.1,1254.4 725.9,1254.9 727.8,1255.4 729.7,1255.6 731.7,1255.8 733.7,1256.3 735.7,1256.9 737.8,1257.8 739.8,1258.6 741.9,1259.0 743.9,1259.3 746.0,1259.3 748.0,1259.3 750.0,1259.4 752.1,1259.4 754.2,1259.4 756.3,1259.3 758.4,1259.1 760.5,1259.0 762.6,1259.1 764.7,1259.3 766.9,1259.6 769.0,1259.8 771.1,1259.9 773.2,1259.6 775.3,1259.2 777.4,1259.3 779.5,1259.8 781.6,1260.0 783.7,1260.1 785.8,1260.2 787.9,1260.3 790.1,1260.5 792.2,1260.7 794.3,1260.9 796.4,1261.0 798.5,1260.8 800.6,1260.7 802.7,1260.9 804.8,1260.9 806.9,1260.4 809.1,1260.0 811.3,1259.9 813.5,1259.8 815.7,1259.7 817.9,1259.3 820.1,1258.8 822.3,1258.0 824.4,1257.3 826.4,1257.4 828.5,1257.3 830.4,1256.6 832.3,1256.0 834.6,1255.5 836.8,1254.9 838.9,1254.0 841.0,1253.5 843.0,1253.5 845.0,1253.1 846.9,1252.2 848.8,1251.3 850.7,1250.5 852.6,1249.0 854.4,1247.1 856.2,1245.1 857.9,1243.6 859.7,1242.4 861.4,1241.4 863.1,1241.0 864.6,1241.4 866.0,1242.5 867.4,1244.0 868.8,1245.6 870.1,1247.2 871.5,1248.8 873.0,1250.5 874.6,1252.1 876.3,1253.2 878.2,1253.9 880.3,1254.4 882.5,1254.7 884.8,1254.6 887.1,1254.1 889.4,1254.0 891.6,1254.1 893.6,1253.9 895.5,1253.6 897.7,1252.7 899.7,1251.3 901.6,1250.3 903.4,1249.7 905.1,1249.7 906.5,1250.6 907.7,1252.4 908.8,1254.5 910.0,1256.7 911.5,1258.6 913.4,1259.9 914.8,1260.5 916.3,1260.8 918.0,1260.7 919.7,1260.5 921.6,1260.8 923.6,1261.2 925.6,1261.1 927.8,1260.9 930.0,1260.2 932.3,1259.5 934.7,1259.4 937.1,1259.2 939.6,1259.0 942.2,1258.9 943.7,1258.8 945.3,1258.5 946.9,1258.0 948.6,1257.9 950.3,1258.2 952.0,1258.6 953.8,1258.3 955.7,1258.1 957.5,1258.1 959.4,1258.1 961.4,1257.9 963.3,1257.6 965.3,1257.6 967.3,1257.7 969.4,1257.8 971.5,1257.8 973.5,1257.7 975.6,1257.5 977.8,1257.5 979.9,1257.5 982.1,1256.8 984.2,1256.2 986.4,1256.3 988.6,1256.3 990.7,1256.5 992.9,1256.7 995.1,1256.8 997.3,1256.6 999.5,1256.1 1001.6,1256.3 1003.8,1256.6 1006.0,1256.5 1008.1,1256.4 1010.2,1255.8 1012.3,1255.4 1014.4,1255.7 1016.5,1255.9 1018.6,1255.6 1020.6,1255.4 1022.6,1255.2 1024.6,1255.1 1026.7,1255.1 1028.8,1255.2 1030.9,1255.3 1033.0,1255.3 1035.1,1255.1 1037.1,1255.1 1039.2,1255.0 1041.3,1254.9 1043.4,1254.8 1045.5,1255.0 1047.6,1255.3 1049.7,1255.3 1051.8,1255.2 1053.9,1255.4 1056.0,1255.5 1058.1,1255.5 1060.1,1255.5 1062.2,1255.1 1064.3,1255.0 1066.3,1255.5 1068.4,1255.8 1070.4,1255.0 1072.5,1254.5 1074.5,1254.8 1076.5,1255.0 1078.6,1254.9 1080.6,1254.8 1082.6,1254.9 1084.5,1254.9 1086.5,1254.6 1088.5,1254.6 1090.4,1255.1 1092.4,1255.4 1094.3,1255.0 1096.2,1254.7 1098.1,1254.4 1100.0,1254.1 1102.2,1254.5 1104.3,1254.8 1106.5,1254.3 1108.6,1254.0 1110.7,1254.3 1112.8,1254.5 1114.9,1254.2 1116.9,1254.2 1119.0,1254.3 1121.0,1254.5 1123.0,1254.7 1125.0,1254.7 1127.0,1254.5 1129.0,1254.3 1131.0,1253.9 1133.0,1253.8 1135.0,1254.0 1137.0,1254.0 1139.0,1253.8 1141.0,1253.5 1143.0,1253.2 1144.9,1252.9 1146.9,1252.6 1148.9,1252.6 1151.0,1252.8 1153.0,1252.9 1155.0,1252.7 1157.0,1252.7 1159.0,1252.9 1161.1,1252.9 1163.0,1252.7 1165.0,1252.4 1167.0,1252.0 1169.0,1251.5 1171.0,1251.1 1172.9,1251.0 1174.9,1251.2 1176.9,1251.0 1178.8,1250.1 1180.8,1249.5 1182.8,1249.3 1184.8,1249.3 1186.8,1249.5 1188.8,1249.5 1190.8,1249.4 1192.9,1249.0 1194.9,1248.4 1197.0,1248.3 1199.1,1248.5 1201.3,1248.6 1203.4,1248.7 1205.6,1248.3 1207.8,1247.7 1210.0,1247.5 1211.8,1247.5 1213.6,1247.3 1215.5,1247.0 1217.4,1246.9 1219.3,1246.9 1221.2,1247.2 1223.1,1247.6 1225.0,1247.6 1227.0,1247.1 1228.9,1247.0 1230.9,1247.4 1232.9,1247.6 1234.9,1247.5 1236.9,1247.3 1238.9,1247.0 1240.9,1246.7 1242.9,1246.4 1245.0,1246.5 1247.0,1247.1 1249.1,1247.1 1251.1,1246.7 1253.2,1246.5 1255.3,1246.4 1257.3,1246.3 1259.4,1246.2 1261.5,1246.5 1263.6,1247.1 1265.6,1246.8 1267.7,1246.4 1269.8,1246.2 1271.9,1246.0 1273.9,1246.1 1276.0,1246.2 1278.0,1245.8 1280.1,1245.5 1282.2,1245.9 1284.2,1246.2 1286.2,1246.0 1288.3,1245.8 1290.3,1245.6 1292.3,1245.5 1294.3,1245.9 1296.3,1246.1 1298.4,1246.1 1300.4,1245.9 1302.5,1245.2 1304.5,1244.7 1306.6,1245.0 1308.6,1245.2 1310.7,1244.9 1312.8,1244.9 1314.8,1245.3 1316.9,1245.5 1319.0,1245.2 1321.1,1244.9 1323.1,1244.3 1325.2,1244.1 1327.3,1244.0 1329.4,1243.8 1331.4,1243.6 1333.5,1244.0 1335.6,1244.6 1337.6,1244.2 1339.7,1243.5 1341.7,1243.6 1343.7,1243.7 1345.8,1243.6 1347.8,1243.4 1349.8,1243.4 1351.8,1243.4 1353.8,1243.3 1355.8,1243.2 1357.7,1243.2 1359.7,1243.2 1361.6,1242.7 1363.5,1242.2 1365.4,1242.3 1367.3,1242.7 1369.2,1242.6 1371.0,1242.2 1372.9,1242.0 1374.7,1242.1 1376.9,1242.1 1379.1,1241.8 1381.3,1241.7 1383.4,1241.5 1385.5,1241.6 1387.5,1241.7 1389.6,1241.6 1391.6,1241.5 1393.6,1241.3 1395.6,1241.1 1397.6,1241.3 1399.6,1241.5 1401.5,1241.4 1403.5,1241.2 1405.4,1240.8 1407.4,1240.3 1409.4,1240.2 1411.3,1240.3 1413.3,1240.4 1415.3,1240.5 1417.3,1240.7 1419.3,1241.1 1421.3,1241.1 1423.4,1241.1 1425.5,1240.8 1427.6,1240.5 1429.7,1240.0 1431.6,1239.6 1433.5,1239.9 1435.5,1240.5 1437.4,1240.4 1439.4,1240.2 1441.3,1240.1 1443.3,1240.2 1445.3,1240.3 1447.3,1240.4 1449.3,1240.4 1451.3,1240.4 1453.3,1240.3 1455.3,1240.2 1457.3,1240.4 1459.3,1240.7 1461.4,1240.5 1463.4,1240.1 1465.5,1240.0 1467.5,1240.0 1469.6,1240.3 1471.6,1240.7 1473.7,1240.4 1475.7,1239.8 1477.8,1239.8 1479.8,1239.9 1481.9,1240.4 1484.0,1240.8 1486.0,1240.2 1488.1,1239.6 1490.2,1240.3 1492.2,1240.8 1494.3,1240.7 1496.3,1240.6 1498.4,1240.4 1500.4,1240.2 1502.5,1240.0 1504.6,1240.1 1506.7,1240.5 1508.8,1240.8 1511.0,1240.9 1513.1,1240.6 1515.3,1240.0 1517.5,1240.0 1519.7,1240.3 1521.9,1240.4 1524.2,1240.5 1526.4,1240.4 1528.6,1240.4 1530.8,1240.2 1533.0,1240.1 1535.2,1239.9 1537.4,1240.1 1539.6,1240.5 1541.8,1240.8 1543.9,1240.9 1546.0,1240.3 1548.1,1239.8 1550.2,1239.9 1552.3,1240.1 1554.3,1240.5 1556.3,1240.9 1558.2,1240.8 1560.2,1240.8 1562.0,1240.6 1563.9,1240.5 1565.7,1240.0 1567.4,1239.5 1569.1,1239.6 1570.7,1240.0 1572.3,1240.3 1574.9,1240.4 1577.3,1240.4 1579.7,1240.3 1581.9,1240.0 1584.1,1239.6 1586.2,1238.9 1588.3,1238.3 1590.3,1238.8 1592.2,1239.0 1594.1,1238.3 1596.0,1237.5 1597.9,1237.4 1599.8,1237.3 1601.9,1237.0 1604.0,1236.6 1605.9,1235.6 1607.9,1234.6 1609.8,1233.4 1611.7,1232.1 1613.5,1231.2 1615.4,1230.4 1617.2,1229.8 1619.0,1229.3 1620.9,1228.3 1622.7,1226.7 1624.4,1225.2 1626.1,1224.4 1627.8,1223.6 1629.5,1222.4 1631.4,1221.2 1633.4,1220.0 1635.5,1218.8 1637.1,1218.3 1638.8,1218.0 1640.5,1217.5 1642.3,1216.5 1644.2,1215.6 1646.1,1215.1 1648.0,1214.6 1650.0,1214.3 1652.0,1214.0 1654.0,1213.3 1656.0,1212.6 1658.1,1212.2 1660.2,1211.8 1662.3,1211.8 1664.3,1211.8 1666.4,1211.6 1668.5,1211.4 1670.5,1211.2 1672.5,1210.9 1674.6,1210.1 1676.8,1209.5 1679.0,1209.6 1681.2,1209.5 1683.4,1209.3 1685.7,1209.3 1687.9,1209.5 1690.2,1209.3 1692.4,1209.2 1694.6,1209.5 1696.7,1209.5 1698.8,1208.9 1700.8,1208.6 1702.8,1208.3 1704.7,1208.2 1706.5,1208.5 1708.1,1208.6 1709.7,1208.3 1712.4,1207.7 1714.8,1207.8 1717.0,1207.7 1719.1,1207.4 1721.2,1207.3 1723.4,1207.3 1725.6,1207.0 1727.8,1206.4 1730.0,1206.1 1732.2,1205.9 1734.5,1205.4 1737.1,1205.3 1738.9,1205.5 1740.9,1205.5 1743.0,1205.4 1745.2,1205.6 1747.5,1206.1 1749.8,1206.2 1752.1,1206.2 1754.3,1206.2 1756.6,1206.3 1758.8,1206.7 1760.8,1207.1 1762.8,1207.6 1764.6,1208.2 1766.9,1209.2 1768.9,1210.1 1770.8,1210.8 1772.6,1211.8 1774.4,1213.2 1776.3,1214.5 1778.4,1215.4 1780.2,1216.1 1782.0,1216.6 1783.8,1217.1 1785.7,1218.2 1787.7,1219.3 1789.6,1219.8 1791.6,1220.2 1793.6,1220.7 1795.6,1221.2 1797.6,1221.8 1799.5,1222.3 1801.4,1222.3 1803.4,1222.1 1805.4,1222.3 1807.3,1222.6 1809.3,1222.4 1811.4,1221.9 1813.4,1221.5 1815.4,1221.1 1817.5,1221.0 1819.6,1221.0 1821.5,1220.4 1823.3,1219.6 1825.2,1219.4 1827.1,1219.3 1829.1,1218.9 1831.0,1218.0 1832.9,1217.3 1834.9,1216.9 1836.9,1216.6 1838.9,1216.5 1840.9,1216.1 1842.9,1215.3 1844.9,1214.5 1847.0,1213.6 1848.9,1212.9 1850.8,1212.7 1852.7,1212.1 1854.7,1211.4 1856.7,1210.8 1858.7,1210.2 1860.7,1209.5 1862.7,1208.8 1864.7,1208.2 1866.8,1207.5 1868.8,1206.7 1870.8,1206.0 1872.8,1205.3 1874.8,1204.5 1876.8,1203.8 1878.8,1203.0 1880.8,1202.2 1882.7,1201.4 1884.6,1200.6 1886.5,1199.8 1888.5,1198.9 1890.5,1198.0 1892.4,1197.1 1894.4,1196.2 1896.4,1195.3 1898.3,1194.4 1900.3,1193.4 1902.2,1192.5 1904.0,1191.5 1905.9,1190.6 1907.7,1189.6 1909.4,1188.7 1911.1,1187.7 1912.7,1186.8 1914.2,1185.9 1915.7,1185.0 1917.6,1183.8 1919.5,1182.5 1921.2,1181.3 1922.8,1180.1 1924.4,1178.8 1925.9,1177.6 1927.3,1176.4 1928.7,1175.2 1930.0,1174.0 1931.8,1172.4 1933.4,1170.8 1934.9,1169.3 1936.4,1167.6 1937.7,1165.7 1938.7,1164.1 1939.5,1162.3 1940.3,1160.4 1941.1,1158.4 1941.8,1156.4 1942.5,1154.3 1943.2,1152.2 1944.0,1150.0 1944.7,1148.1 1945.4,1146.2 1946.1,1144.2 1946.8,1142.3 1947.5,1140.2 1948.2,1138.2 1948.9,1136.1 1949.6,1133.9 1950.2,1131.8 1950.8,1129.5 1951.4,1127.3 1951.8,1125.5 1952.2,1123.6 1952.6,1121.7 1952.9,1119.7 1953.3,1117.7 1953.6,1115.7 1953.9,1113.7 1954.2,1111.7 1954.4,1109.6 1954.7,1107.5 1955.0,1105.4 1955.3,1103.4 1955.6,1101.3 1955.9,1099.2 1956.2,1097.1 1956.5,1095.0 1956.8,1093.0 1957.1,1090.9 1957.4,1088.8 1957.7,1086.6 1958.0,1084.4 1958.3,1082.1 1958.6,1079.9 1958.9,1077.6 1959.2,1075.4 1959.5,1073.2 1959.8,1071.1 1960.2,1069.0 1960.5,1067.0 1960.8,1065.1 1961.2,1063.3 1961.6,1061.6 1962.0,1060.0 1962.4,1058.6 1963.2,1056.2 1964.0,1054.1 1964.9,1052.2 1965.9,1050.5 1967.0,1049.0 1968.5,1047.3 1970.2,1045.6 1971.9,1044.4 1973.5,1044.1 1974.7,1044.9 1975.7,1046.7 1976.7,1049.0 1977.7,1051.6 1978.8,1054.1 1980.1,1056.3 1981.5,1058.0 1983.1,1059.6 1984.8,1061.1 1986.5,1062.6 1988.2,1064.2 1989.9,1065.8 1991.3,1067.5 1992.6,1069.2 1993.7,1071.0 1994.8,1072.7 1995.9,1074.6 1996.9,1076.5 1997.8,1078.5 1998.8,1080.7 1999.5,1082.5 2000.2,1084.5 2000.8,1086.6 2001.4,1088.8 2002.0,1091.1 2002.5,1093.3 2003.1,1095.6 2003.7,1097.8 2004.3,1099.9 2005.0,1101.8 2005.7,1103.6 2006.4,1105.1 2008.0,1107.8 2009.6,1110.3 2011.3,1112.1 2012.9,1112.6 2013.8,1111.9 2014.5,1110.2 2015.2,1107.9 2015.9,1105.2 2016.6,1102.4 2017.4,1099.9 2018.4,1097.8 2019.5,1096.6 2021.6,1096.2 2024.1,1096.8 2026.6,1097.6 2028.9,1097.6 2030.9,1096.3 2032.9,1094.3 2034.7,1092.5 2036.4,1092.0 2037.3,1092.7 2038.2,1094.0 2038.9,1095.9 2039.6,1098.2 2040.3,1100.6 2041.0,1103.0 2041.8,1105.3 2042.8,1107.3 2043.9,1108.8 2045.5,1110.0 2047.4,1110.9 2049.3,1111.5 2051.3,1112.0 2053.3,1112.6 2055.2,1113.5 2056.9,1114.6 2058.5,1115.8 2060.2,1117.0 2061.8,1118.4 2063.4,1119.7 2064.9,1120.9 2066.4,1122.0 2068.3,1123.5 2070.1,1125.0 2072.0,1126.1 2073.9,1126.7 2075.7,1126.3 2077.7,1125.3 2079.6,1124.0 2081.5,1123.1 2083.3,1122.9 2085.0,1123.7 2086.6,1125.1 2088.1,1127.0 2089.5,1129.1 2090.8,1131.4 2091.5,1133.0 2092.2,1134.7 2092.8,1136.5 2093.3,1138.5 2093.8,1140.5 2094.2,1142.7 2094.6,1144.9 2095.1,1147.1 2095.5,1149.4 2096.0,1151.6 2096.5,1153.9 2096.9,1155.7 2097.4,1157.6 2097.8,1159.5 2098.2,1161.5 2098.7,1163.5 2099.1,1165.6 2099.6,1167.7 2100.0,1169.8 2100.5,1171.8 2100.9,1173.9 2101.4,1176.0 2101.8,1178.1 2102.3,1180.1 2102.7,1182.1 2103.1,1184.0 2103.6,1185.9 2104.0,1187.7 2104.5,1189.9 2105.0,1192.2 2105.4,1194.3 2105.8,1196.5 2106.3,1198.6 2106.7,1200.6 2107.2,1202.6 2107.7,1204.6 2108.3,1206.5 2108.9,1208.4 2109.6,1210.2 2110.5,1212.3 2111.6,1214.4 2112.7,1216.4 2113.8,1218.4 2115.0,1220.3 2116.3,1222.0 2117.6,1223.7 2119.0,1225.2 2120.7,1226.8 2122.5,1228.2 2124.3,1229.4 2126.3,1230.6 2128.2,1231.6 2130.3,1232.7 2132.0,1233.5 2133.9,1234.3 2135.7,1235.0 2137.6,1235.6 2139.6,1236.3 2141.5,1236.9 2143.4,1237.6 2145.3,1238.4 2147.2,1239.3 2149.1,1240.3 2151.0,1241.3 2152.9,1242.3 2154.8,1243.3 2156.7,1244.3 2158.5,1245.2 2160.3,1245.9 2162.6,1246.8 2164.9,1247.6 2167.1,1248.3 2169.3,1248.7 2171.5,1248.7 2173.4,1248.2 2175.4,1247.1 2177.4,1245.9 2179.3,1244.7 2181.2,1244.0 2182.8,1244.0 2184.3,1245.0 2185.6,1246.7 2186.7,1248.9 2187.8,1251.3 2189.0,1253.5 2190.3,1255.3 2192.0,1257.2 2193.8,1258.9 2195.7,1260.2 2197.8,1260.9 2199.5,1260.7 2201.3,1259.9 2203.3,1258.8 2205.3,1257.5 2207.3,1256.4 2209.2,1255.5 2211.0,1255.3 2213.0,1256.0 2214.8,1257.5 2216.6,1259.1 2218.4,1260.4 2220.3,1260.9 2221.9,1260.3 2223.6,1259.0 2225.3,1257.1 2227.0,1255.0 2228.7,1253.0 2230.4,1251.2 2232.0,1250.0 2233.5,1249.6 2235.0,1250.3 2236.4,1251.8 2237.7,1253.9 2239.1,1256.1 2240.3,1258.1 2241.6,1259.5 2242.9,1260.0 2244.1,1259.3 2245.3,1257.7 2246.5,1255.4 2247.7,1252.9 2248.9,1250.3 2250.0,1248.1 2251.2,1246.5 2252.3,1245.9 2253.6,1246.7 2254.9,1248.8 2256.1,1251.5 2257.4,1254.2 2258.6,1256.3 2259.8,1257.1 2260.9,1256.6 2262.0,1255.3 2263.1,1253.3 2264.1,1251.0 2265.2,1248.6 2266.3,1246.2 2267.3,1244.0 2268.2,1242.1 2269.1,1240.1 2270.0,1238.0 2270.8,1235.9 2271.7,1233.9 2272.7,1232.0 2273.7,1230.3 2274.8,1229.0 2276.6,1227.8 2278.6,1227.2 2280.6,1226.5 2282.3,1225.2 2283.1,1223.9 2283.8,1222.3 2284.4,1220.4 2284.8,1218.3 2285.2,1216.0 2285.6,1213.7 2286.0,1211.3 2286.4,1209.0 2286.8,1206.7 2287.3,1204.6 2287.9,1202.7 2288.7,1200.6 2289.6,1198.6 2290.5,1196.7 2291.5,1194.8 2292.5,1193.0 2293.5,1191.2 2294.4,1189.4 2295.4,1187.7 2296.5,1185.5 2297.6,1183.0 2298.7,1180.6 2299.8,1178.5 2300.9,1177.0 2302.0,1176.4 2303.6,1177.2 2305.2,1179.4 2306.7,1182.1 2307.6,1184.0 2308.5,1186.4 2309.4,1189.2 2310.3,1192.0 2311.1,1194.7 2311.7,1196.9 2312.1,1198.4 2312.3,1199.0"/>
<polyline class="c" stroke="#000000" points="221.0,1500.0 221.0,1475.0 221.3,1475.0 222.1,1475.1 223.3,1475.3 225.0,1475.5 227.0,1475.8 229.2,1476.1 231.7,1476.4 234.3,1476.7 237.1,1477.1 239.9,1477.5 242.7,1477.9 245.4,1478.3 247.9,1478.6 250.3,1479.0 252.2,1479.3 254.1,1479.6 256.0,1479.9 258.0,1480.3 259.9,1480.6 261.9,1481.0 263.9,1481.3 266.0,1481.7 268.0,1482.1 270.0,1482.5 272.1,1482.8 274.2,1483.2 276.2,1483.6 278.3,1484.0 280.4,1484.3 282.4,1484.7 284.5,1485.0 286.5,1485.4 288.6,1485.7 290.6,1486.0 292.6,1486.3 294.6,1486.6 296.7,1486.9 298.7,1487.2 300.7,1487.5 302.7,1487.7 304.8,1488.0 306.8,1488.3 308.8,1488.5 310.9,1488.8 312.9,1489.0 314.9,1489.3 316.9,1489.5 319.0,1489.8 321.0,1490.0 323.0,1490.2 325.0,1490.5 327.0,1490.7 328.9,1490.9 330.9,1491.1 333.0,1491.3 335.0,1491.5 337.1,1491.7 339.2,1491.9 341.3,1492.2 343.4,1492.4 345.4,1492.5 347.5,1492.7 349.6,1492.9 351.6,1493.1 353.6,1493.3 355.6,1493.4 357.6,1493.6 359.6,1493.7 361.5,1493.8 363.4,1493.9 365.3,1494.0 367.1,1494.1 369.3,1494.2 371.4,1494.3 373.5,1494.4 375.6,1494.5 377.7,1494.5 379.7,1494.6 381.6,1494.6 383.6,1494.6 385.5,1494.5 387.5,1494.5 389.4,1494.3 391.3,1494.1 393.4,1493.8 395.5,1493.5 397.6,1493.2 399.7,1492.8 401.7,1492.4 403.7,1491.9 405.7,1491.3 407.7,1490.6 409.6,1489.9 411.4,1489.1 413.2,1488.1 414.8,1487.0 416.5,1485.8 418.1,1484.4 419.6,1483.1 421.2,1481.7 422.7,1480.3 424.3,1479.1 425.9,1478.0 427.6,1477.0 429.6,1476.2 431.7,1475.5 433.9,1475.0 436.0,1474.6 438.2,1474.2 440.2,1473.7 442.0,1473.0 443.7,1472.0 445.3,1470.5 446.7,1468.7 447.8,1466.7 448.9,1464.6 450.2,1462.7 451.7,1460.9 453.2,1459.7 454.9,1458.6 456.7,1457.6 458.6,1456.6 460.5,1455.6 462.3,1454.5 464.1,1453.3 465.8,1451.8 467.0,1450.4 468.2,1448.9 469.3,1447.1 470.3,1445.3 471.3,1443.3 472.4,1441.3 473.4,1439.3 474.4,1437.4 475.4,1435.5 476.5,1433.8 477.6,1432.2 478.7,1430.8 479.9,1429.6 481.8,1428.3 483.8,1427.4 485.9,1426.8 488.0,1426.2 490.0,1425.5 492.0,1424.6 493.8,1423.4 495.5,1422.0 497.1,1420.5 498.8,1419.0 500.5,1417.6 502.2,1416.4 504.1,1415.5 506.0,1415.0 507.9,1414.8 509.9,1414.9 512.0,1415.0 514.0,1415.0 516.1,1414.9 518.2,1414.5 520.0,1413.9 521.8,1413.1 523.7,1412.3 525.6,1411.3 527.5,1410.2 529.3,1409.1 531.2,1407.9 533.0,1406.8 534.7,1405.6 536.3,1404.5 538.2,1403.1 540.0,1401.5 541.6,1399.9 543.3,1398.3 544.9,1396.8 546.6,1395.5 548.4,1394.4 550.3,1393.5 552.2,1392.6 554.2,1392.0 556.2,1391.5 558.3,1391.3 560.5,1391.4 562.2,1391.7 563.9,1392.2 565.7,1392.9 567.6,1393.7 569.5,1394.6 571.4,1395.7 573.3,1396.8 575.3,1398.0 577.2,1399.2 579.2,1400.5 581.1,1401.7 582.9,1402.9 584.6,1404.0 586.2,1405.2 587.9,1406.4 589.5,1407.6 591.1,1408.9 592.7,1410.2 594.3,1411.5 595.9,1412.8 597.6,1414.2 599.2,1415.6 600.8,1417.0 602.5,1418.4 604.1,1419.8 605.8,1421.2 607.3,1422.5 608.8,1423.8 610.3,1425.1 611.8,1426.6 613.4,1428.0 614.9,1429.5 616.5,1430.9 618.0,1432.4 619.6,1433.9 621.2,1435.3 622.7,1436.7 624.3,1438.1 625.8,1439.4 627.4,1440.7 628.9,1441.9 630.4,1443.0 631.8,1444.1 633.3,1445.0 635.4,1446.2 637.5,1447.2 639.5,1448.1 641.5,1448.8 643.5,1449.5 645.6,1450.2 647.6,1451.1 649.6,1451.7 651.6,1452.2 653.6,1453.0 655.6,1453.8 657.6,1454.6 659.6,1455.3 661.5,1456.0 663.6,1456.7 665.6,1457.2 667.7,1457.9 669.9,1458.8 671.6,1459.6 673.3,1460.4 675.1,1461.1 676.9,1462.0 678.7,1462.9 680.5,1463.9 682.4,1464.9 684.2,1466.0 686.1,1467.1 688.0,1468.2 689.9,1469.2 691.8,1470.2 693.7,1470.9 695.5,1471.6 697.4,1472.3 699.4,1473.0 701.3,1473.9 703.3,1474.8 705.4,1475.4 707.4,1476.0 709.4,1476.6 711.5,1477.3 713.5,1478.2 715.4,1479.1 717.4,1479.7 719.3,1480.2 721.2,1480.9 723.0,1481.9 724.8,1482.7 726.8,1483.5 728.9,1484.6 730.9,1485.9 732.8,1487.1 734.8,1488.2 736.6,1489.2 738.4,1490.0 740.1,1490.7 741.6,1491.6 743.1,1492.4 745.5,1493.7 747.6,1494.8 750.0,1495.7 751.7,1496.3 753.5,1497.0 755.4,1497.7 757.5,1498.6 759.6,1499.5 761.8,1500.2 764.1,1500.8 766.4,1501.0 768.3,1501.0 770.2,1501.0 772.2,1500.9 774.2,1500.5 776.3,1500.1 778.4,1499.9 780.6,1499.5 782.7,1499.1 784.9,1498.8 787.1,1498.6 789.4,1498.4 791.6,1498.3 793.8,1498.0 795.8,1497.9 797.9,1498.2 800.0,1498.6 802.2,1498.6 804.4,1498.8 806.6,1499.1 808.8,1499.5 811.1,1500.1 813.3,1500.5 815.4,1500.7 817.5,1501.0 819.6,1501.4 821.5,1501.4 823.4,1501.4 825.2,1501.2 826.8,1501.0 829.1,1500.2 831.3,1498.9 833.2,1497.7 835.1,1496.6 836.9,1495.4 838.7,1494.3 840.5,1493.8 842.8,1494.4 845.1,1495.7 847.3,1497.2 849.5,1498.2 851.5,1498.4 853.0,1497.6 854.3,1496.0 855.6,1494.1 856.8,1492.2 858.2,1490.4 859.8,1489.3 861.8,1488.9 863.9,1489.1 866.2,1489.5 868.6,1490.0 871.1,1490.4 873.5,1491.3 875.3,1492.2 877.3,1493.1 879.2,1494.1 881.3,1495.1 883.3,1496.1 885.3,1497.2 887.3,1498.3 889.2,1499.0 891.0,1499.4 892.7,1499.4 894.7,1498.9 896.6,1497.8 898.4,1496.6 900.1,1495.4 901.9,1494.2 903.7,1493.7 905.3,1494.4 906.8,1495.6 908.3,1497.3 909.8,1499.1 911.4,1500.9 913.2,1502.6 915.2,1503.8 917.5,1505.0 918.9,1505.6 920.4,1506.0 922.1,1506.1 923.9,1506.1 925.8,1506.6 927.8,1507.0 929.9,1507.0 932.0,1506.8 934.2,1507.2 936.5,1507.3 938.8,1507.1 941.1,1507.0 943.5,1507.2 945.8,1506.8 948.1,1506.4 950.5,1506.3 952.7,1506.2 955.0,1506.4 957.1,1506.3 959.2,1506.1 961.2,1505.9 963.2,1505.7 965.0,1505.4 966.7,1505.1 968.3,1504.8 969.7,1504.7 972.4,1504.4 974.5,1504.1 976.4,1503.6 978.4,1503.0 980.6,1502.5 983.4,1502.5 984.7,1502.5 986.1,1502.3 987.6,1502.1 989.1,1502.1 990.8,1502.0 992.5,1502.0 994.3,1501.8 996.2,1501.6 998.1,1501.5 1000.1,1501.3 1002.1,1501.1 1004.2,1501.0 1006.3,1501.2 1008.5,1501.3 1010.7,1501.1 1012.9,1501.0 1015.2,1501.1 1017.4,1501.1 1019.7,1501.1 1022.0,1501.1 1024.3,1501.0 1026.6,1500.8 1028.9,1500.7 1031.1,1500.7 1033.4,1500.7 1035.6,1500.9 1037.8,1500.7 1040.0,1500.4 1042.1,1500.6 1044.2,1500.7 1046.2,1500.4 1048.2,1500.3 1050.1,1500.2 1052.0,1500.1 1054.2,1500.0 1056.4,1499.8 1058.5,1499.8 1060.7,1499.7 1062.9,1499.4 1065.1,1499.2 1067.2,1498.9 1069.4,1498.7 1071.5,1498.5 1073.6,1498.3 1075.7,1498.3 1077.8,1498.2 1079.8,1498.1 1081.8,1497.7 1083.8,1497.3 1085.8,1497.1 1087.7,1496.8 1089.6,1496.7 1091.4,1496.6 1093.2,1496.4 1095.0,1496.3 1096.7,1496.2 1098.4,1496.2 1100.0,1496.3 1102.4,1496.3 1104.6,1496.4 1106.6,1496.4 1108.6,1496.4 1110.5,1496.4 1112.4,1496.4 1114.3,1496.6 1116.3,1496.7 1118.5,1496.8 1120.8,1496.7 1122.6,1496.7 1124.4,1496.6 1126.4,1496.4 1128.4,1496.2 1130.5,1496.3 1132.6,1496.1 1134.8,1495.7 1137.0,1495.4 1139.2,1495.2 1141.4,1494.9 1143.7,1494.7 1145.9,1494.4 1148.1,1494.1 1150.3,1493.9 1152.4,1493.7 1154.5,1493.3 1156.5,1493.0 1158.4,1492.9 1160.2,1492.9 1162.0,1492.8 1164.3,1492.8 1166.4,1492.4 1168.3,1492.2 1170.2,1492.3 1172.0,1492.4 1173.9,1492.4 1175.8,1492.3 1177.8,1492.1 1180.0,1491.9 1182.4,1491.8 1184.0,1491.7 1185.6,1491.8 1187.3,1491.8 1189.0,1491.6 1190.8,1491.3 1192.6,1491.0 1194.5,1491.0 1196.4,1490.9 1198.3,1490.5 1200.3,1490.1 1202.3,1490.0 1204.4,1489.8 1206.5,1489.5 1208.6,1489.2 1210.7,1489.1 1212.9,1489.1 1215.1,1488.9 1217.2,1488.6 1219.5,1488.1 1221.7,1487.9 1223.9,1487.8 1226.2,1487.8 1228.4,1487.6 1230.7,1487.2 1232.9,1486.8 1235.2,1486.7 1237.4,1486.6 1239.2,1486.6 1241.1,1486.5 1242.9,1486.4 1244.8,1486.2 1246.7,1485.9 1248.6,1485.7 1250.5,1485.7 1252.4,1485.7 1254.4,1485.4 1256.3,1485.1 1258.3,1485.0 1260.3,1485.0 1262.3,1485.2 1264.3,1485.3 1266.3,1484.8 1268.3,1484.5 1270.4,1484.7 1272.4,1484.9 1274.5,1484.7 1276.5,1484.6 1278.6,1484.5 1280.7,1484.4 1282.7,1484.3 1284.8,1484.2 1286.9,1484.1 1288.9,1483.9 1291.0,1483.7 1293.1,1483.6 1295.2,1483.6 1297.3,1483.4 1299.3,1483.3 1301.4,1483.3 1303.5,1483.4 1305.5,1483.4 1307.6,1483.3 1309.6,1483.2 1311.7,1483.1 1313.7,1482.8 1315.8,1482.5 1317.8,1482.5 1319.8,1482.6 1321.8,1482.4 1323.8,1482.1 1325.8,1482.2 1327.8,1482.3 1329.8,1482.2 1331.8,1482.0 1333.8,1482.0 1335.8,1482.0 1337.8,1481.8 1339.8,1481.6 1341.8,1481.5 1343.8,1481.3 1345.7,1481.3 1347.7,1481.2 1349.7,1480.9 1351.7,1480.5 1353.7,1480.5 1355.7,1480.6 1357.7,1480.3 1359.7,1480.0 1361.7,1480.0 1363.7,1480.0 1365.7,1479.8 1367.7,1479.7 1369.7,1479.8 1371.7,1480.0 1373.7,1479.6 1375.7,1479.2 1377.7,1479.3 1379.7,1479.6 1381.7,1479.5 1383.8,1479.4 1385.8,1479.2 1387.8,1478.9 1389.9,1478.9 1391.9,1479.0 1394.0,1478.7 1396.0,1478.3 1398.1,1478.3 1400.1,1478.2 1402.2,1478.1 1404.2,1478.0 1406.1,1478.0 1408.1,1477.9 1410.1,1477.8 1412.1,1477.8 1414.1,1478.0 1416.1,1478.2 1418.1,1477.9 1420.1,1477.6 1422.1,1477.8 1424.1,1477.9 1426.1,1477.7 1428.1,1477.6 1430.1,1477.5 1432.1,1477.4 1434.1,1477.5 1436.2,1477.5 1438.2,1477.4 1440.2,1477.3 1442.3,1477.6 1444.3,1477.8 1446.3,1477.5 1448.4,1477.4 1450.4,1477.4 1452.4,1477.4 1454.5,1477.4 1456.5,1477.4 1458.6,1477.4 1460.6,1477.4 1462.7,1477.3 1464.7,1477.2 1466.8,1477.1 1468.8,1477.0 1470.9,1477.0 1473.0,1477.0 1475.0,1477.3 1477.1,1477.3 1479.1,1477.0 1481.2,1476.9 1483.2,1477.0 1485.3,1477.1 1487.4,1477.2 1489.4,1477.2 1491.5,1477.1 1493.5,1477.2 1495.6,1477.3 1497.6,1477.3 1499.7,1477.2 1501.7,1477.1 1503.9,1477.1 1506.0,1476.9 1508.2,1476.9 1510.4,1477.1 1512.6,1477.3 1514.9,1477.3 1517.1,1477.5 1519.4,1477.7 1521.7,1477.7 1524.0,1477.7 1526.3,1477.8 1528.7,1478.0 1531.0,1478.1 1533.3,1478.2 1535.7,1478.1 1538.0,1478.4 1540.3,1478.6 1542.6,1478.7 1544.9,1478.7 1547.2,1478.5 1549.5,1478.7 1551.8,1479.0 1554.0,1479.1 1556.2,1479.2 1558.4,1479.2 1560.6,1479.2 1562.7,1479.1 1564.8,1479.0 1566.9,1479.0 1569.0,1478.9 1570.9,1478.9 1572.9,1478.9 1574.8,1478.9 1576.7,1479.0 1578.5,1479.1 1580.2,1479.1 1582.0,1478.9 1583.6,1478.6 1585.2,1478.4 1586.7,1478.1 1588.2,1477.9 1589.6,1477.7 1590.9,1477.6 1592.2,1477.4 1593.4,1477.1 1594.5,1476.8 1596.9,1476.0 1599.0,1475.2 1600.7,1474.3 1602.3,1473.2 1603.7,1472.1 1605.1,1471.0 1606.6,1469.9 1608.2,1468.9 1610.1,1467.7 1612.1,1466.6 1614.1,1465.9 1616.0,1465.1 1618.0,1464.1 1620.0,1463.0 1622.0,1461.9 1623.4,1460.9 1624.9,1459.5 1626.4,1457.8 1627.8,1455.9 1629.3,1453.9 1630.8,1451.9 1632.2,1450.0 1633.7,1448.2 1635.2,1446.7 1636.7,1445.2 1638.2,1444.0 1639.7,1443.0 1641.2,1442.7 1643.0,1442.8 1644.8,1443.6 1646.6,1444.6 1648.4,1446.0 1650.2,1447.6 1652.0,1449.1 1653.9,1450.7 1655.8,1452.0 1657.7,1452.6 1659.7,1452.7 1661.9,1452.6 1664.0,1452.4 1666.2,1452.1 1668.4,1451.6 1670.6,1450.9 1672.8,1450.1 1674.9,1449.2 1676.9,1448.2 1678.5,1447.1 1680.1,1445.8 1681.7,1444.7 1683.3,1443.4 1684.8,1442.0 1686.3,1440.6 1687.8,1439.1 1689.3,1437.6 1690.7,1436.2 1692.1,1434.8 1693.4,1433.4 1694.7,1432.0 1696.2,1430.4 1697.6,1428.6 1698.9,1426.8 1700.2,1425.1 1701.4,1423.5 1702.7,1421.9 1703.9,1420.3 1705.1,1418.7 1706.4,1417.1 1707.9,1415.2 1709.3,1413.4 1710.7,1411.7 1712.1,1410.1 1713.6,1408.5 1715.0,1407.0 1716.6,1405.6 1718.6,1404.0 1720.6,1402.8 1722.6,1402.1 1724.7,1401.4 1726.9,1400.6 1729.1,1399.7 1731.4,1399.0 1733.7,1398.5 1736.1,1398.3 1738.6,1398.0 1740.7,1398.0 1742.9,1398.2 1745.2,1398.4 1747.5,1398.7 1749.8,1398.8 1752.1,1398.9 1754.2,1399.5 1756.2,1400.2 1758.1,1401.3 1759.9,1402.5 1761.6,1403.8 1763.2,1405.3 1764.8,1406.8 1766.4,1408.4 1767.9,1410.0 1769.1,1411.4 1770.1,1413.0 1771.2,1414.6 1772.2,1416.3 1773.2,1418.1 1774.2,1419.9 1775.2,1421.7 1776.2,1423.6 1777.3,1425.4 1778.4,1427.2 1779.6,1428.9 1780.9,1430.6 1782.3,1432.2 1783.8,1433.8 1785.2,1435.5 1786.7,1437.2 1788.2,1438.7 1789.8,1440.1 1791.3,1441.4 1792.8,1442.6 1794.3,1443.7 1796.2,1445.0 1798.1,1446.1 1800.0,1447.1 1802.0,1447.8 1803.9,1448.3 1806.0,1448.9 1808.0,1449.3 1810.0,1449.2 1812.1,1449.1 1814.2,1448.9 1816.3,1448.8 1818.5,1448.9 1820.7,1448.8 1822.8,1448.4 1825.0,1448.3 1827.2,1448.4 1829.4,1448.2 1831.6,1447.8 1833.8,1447.3 1836.0,1446.8 1838.2,1446.3 1840.2,1445.8 1842.1,1445.2 1844.0,1444.5 1845.8,1443.5 1847.7,1442.5 1849.6,1441.7 1851.6,1440.8 1853.7,1439.9 1855.8,1439.0 1857.7,1438.6 1859.7,1438.3 1861.7,1437.7 1863.9,1437.1 1866.1,1436.8 1868.3,1436.5 1870.5,1435.9 1872.7,1435.4 1874.8,1435.1 1876.9,1434.8 1878.8,1434.3 1880.6,1433.8 1882.2,1433.3 1884.6,1432.4 1886.7,1431.5 1888.6,1430.7 1890.5,1429.9 1892.5,1428.9 1894.2,1428.0 1895.9,1427.0 1897.7,1425.7 1899.4,1424.3 1901.1,1423.0 1902.7,1421.6 1904.2,1420.1 1905.4,1418.5 1906.4,1416.8 1907.4,1415.0 1908.4,1413.1 1909.3,1411.4 1910.3,1409.6 1911.2,1407.8 1912.2,1406.1 1913.3,1404.4 1914.4,1402.9 1915.9,1401.1 1917.5,1399.3 1919.2,1397.5 1920.9,1395.9 1922.6,1394.5 1924.4,1393.2 1926.2,1392.2 1928.5,1391.3 1930.8,1391.0 1933.2,1391.0 1935.5,1391.1 1937.9,1390.9 1940.3,1390.5 1942.7,1389.9 1945.1,1389.3 1947.4,1388.9 1949.6,1388.7 1951.9,1389.0 1954.2,1389.8 1956.3,1390.9 1958.4,1392.3 1960.1,1393.7 1961.7,1395.3 1963.3,1396.9 1965.0,1398.4 1966.9,1399.5 1968.8,1399.9 1970.9,1400.0 1973.2,1399.8 1975.5,1399.3 1977.8,1399.0 1980.0,1398.9 1982.0,1398.8 1984.6,1398.8 1987.0,1398.7 1989.2,1399.2 1991.3,1400.5 1992.6,1401.7 1993.7,1403.1 1994.7,1404.8 1995.7,1406.7 1996.7,1408.7 1997.7,1410.7 1998.8,1412.7 1999.8,1414.4 2000.8,1416.2 2001.9,1418.0 2002.9,1419.9 2004.0,1421.8 2005.1,1423.9 2006.3,1426.0 2007.5,1428.1 2008.8,1429.9 2010.1,1431.5 2011.6,1433.1 2013.1,1434.7 2014.7,1436.3 2016.3,1437.8 2018.0,1439.1 2019.7,1440.4 2021.5,1441.7 2023.3,1443.0 2025.1,1444.2 2026.8,1445.3 2028.7,1446.4 2030.5,1447.4 2032.4,1448.4 2034.3,1449.3 2036.3,1450.2 2038.2,1451.1 2040.1,1451.9 2042.0,1452.8 2043.9,1453.6 2045.8,1454.8 2047.7,1456.0 2049.6,1457.0 2051.4,1458.0 2053.3,1459.1 2055.2,1460.1 2057.0,1460.9 2058.9,1461.6 2060.8,1462.3 2062.9,1463.3 2065.2,1464.4 2067.4,1465.3 2069.7,1466.1 2071.9,1466.7 2074.0,1467.4 2075.9,1467.7 2077.7,1467.2 2079.3,1465.9 2080.6,1463.9 2081.9,1461.4 2083.0,1458.7 2084.0,1456.1 2085.0,1454.0 2086.1,1452.4 2087.1,1451.9 2088.1,1452.4 2089.0,1453.9 2089.9,1455.9 2090.7,1458.3 2091.6,1460.9 2092.5,1463.3 2093.5,1465.4 2094.6,1467.1 2096.0,1468.5 2097.4,1470.0 2098.9,1471.3 2100.5,1472.6 2102.2,1473.7 2104.0,1474.6 2105.9,1475.3 2107.9,1475.8 2110.0,1476.4 2112.2,1476.8 2114.4,1476.9 2116.7,1477.0 2119.0,1477.3 2121.0,1477.5 2123.1,1477.5 2125.3,1477.4 2127.5,1477.3 2129.7,1477.1 2131.9,1477.0 2134.0,1476.9 2135.9,1477.0 2137.8,1477.4 2139.9,1478.2 2141.7,1479.2 2143.5,1480.4 2145.2,1481.4 2147.0,1482.3 2149.0,1483.0 2151.0,1483.5 2153.0,1483.9 2155.2,1484.2 2157.3,1484.3 2159.5,1484.2 2161.8,1484.4 2164.0,1484.8 2166.0,1485.4 2168.0,1486.1 2170.1,1486.4 2172.1,1486.8 2174.2,1487.4 2176.3,1488.0 2178.5,1488.6 2180.6,1489.1 2182.8,1489.8 2184.8,1490.2 2186.9,1490.5 2189.0,1491.0 2191.2,1491.5 2193.4,1491.9 2195.5,1492.0 2197.7,1492.3 2199.7,1492.5 2201.7,1492.7 2203.6,1492.7 2205.3,1492.4 2207.5,1491.5 2209.4,1490.3 2211.2,1488.9 2212.9,1487.5 2214.7,1486.4 2216.6,1485.8 2218.7,1485.8 2220.9,1486.6 2223.1,1487.8 2225.3,1489.0 2227.5,1490.1 2229.7,1490.5 2231.6,1490.4 2233.6,1490.0 2235.5,1489.4 2237.5,1488.6 2239.4,1487.8 2241.2,1486.7 2242.9,1485.5 2244.5,1484.0 2246.0,1482.1 2247.4,1479.8 2248.8,1477.5 2250.1,1475.3 2251.5,1473.4 2252.8,1472.2 2254.1,1471.7 2255.5,1472.3 2256.8,1473.8 2258.1,1476.0 2259.4,1478.3 2260.7,1480.5 2262.1,1482.3 2263.5,1483.2 2265.3,1482.9 2267.2,1481.6 2269.1,1480.1 2271.1,1478.8 2272.9,1478.4 2274.5,1479.0 2276.0,1480.2 2277.5,1482.0 2279.0,1484.1 2280.6,1486.1 2282.3,1487.8 2284.0,1489.1 2285.8,1490.4 2287.7,1491.7 2289.6,1492.7 2291.6,1493.7 2293.5,1494.8 2295.4,1495.9 2297.5,1497.3 2299.9,1498.8 2302.4,1500.6 2304.8,1502.2 2306.7,1503.6 2308.1,1504.5 2308.6,1504.8"/>
<text class="p" x="504.4" y="218.2">3421</text>
<text class="p" x="746.4" y="283.5">2923</text>
<text class="p" x="911.2" y="305.5">2856</text>
<text class="p" x="1555.4" y="278.0">1581</text>
<text class="p" x="1715.1" y="265.4">1465</text>
<text class="p" x="2007.9" y="101.8">1070</text>
<text class="p" x="2126.4" y="225.8">717</text>
<text class="p" x="2213.4" y="258.7">600</text>
<text class="p" x="493.3" y="534.0">3429</text>
<text class="p" x="735.4" y="597.9">2923</text>
<text class="p" x="900.2" y="619.9">2856</text>
<text class="p" x="1539.4" y="604.3">1581</text>
<text class="p" x="1707.8" y="594.5">1462</text>
<text class="p" x="1965.3" y="423.8">1081</text>
<text class="p" x="2106.7" y="557.1">718</text>
<text class="p" x="2204.0" y="587.1">602</text>
<text class="p" x="493.3" y="782.0">3436</text>
<text class="p" x="757.4" y="817.9">2923</text>
<text class="p" x="879.6" y="847.1">2856</text>
<text class="p" x="1569.4" y="831.1">1581</text>
<text class="p" x="1732.6" y="826.0">1464</text>
<text class="p" x="1955.0" y="707.6">1071</text>
<text class="p" x="2104.8" y="783.6">717</text>
<text class="p" x="2197.4" y="824.0">600</text>
<text class="p" x="488.3" y="967.0">3414</text>
<text class="p" x="732.6" y="1004.3">2923</text>
<text class="p" x="896.1" y="1011.1">2856</text>
<text class="p" x="1535.2" y="1020.7">1581</text>
<text class="p" x="1687.2" y="994.5">1465</text>
<text class="p" x="1925.0" y="862.4">1061</text>
<text class="p" x="2120.8" y="970.5">718</text>
<text class="p" x="2207.7" y="997.7">600</text>
<text class="p" x="475.2" y="1199.1">3426</text>
<text class="p" x="740.9" y="1231.6">2923</text>
<text class="p" x="904.4" y="1239.0">2854</text>
<text class="p" x="1543.4" y="1189.2">1620</text>
<text class="p" x="1698.2" y="1176.8">1488</text>
<text class="p" x="1920.3" y="1034.3">1070</text>
<text class="p" x="2113.3" y="1187.4">720</text>
<text class="p" x="2175.8" y="1238.1">603</text>
<text class="p" x="491.3" y="1377.0">3430</text>
<text class="p" x="732.6" y="1442.3">2929</text>
<text class="p" x="832.9" y="1478.6">2855</text>
<text class="p" x="1525.9" y="1430.5">1621</text>
<text class="p" x="1658.7" y="1383.8">1464</text>
<text class="p" x="1892.3" y="1367.1">1092</text>
<text class="p" x="2044.5" y="1445.2">879</text>
<text class="p" x="2193.7" y="1461.1">601</text>
<text class="s" fill="#000088" x="1097.3" y="275.9">GL-TEOS-2.5</text>
<text class="s" fill="#008800" x="1098.2" y="606.5">GL-TEOS-2.0</text>
<text class="s" fill="#ff00ff" x="1098.2" y="835.6">GL-TEOS-1.5</text>
<text class="s" fill="#0000ff" x="1098.2" y="1013.4">GL-TEOS-1.0</text>
<text class="s" fill="#ff0000" x="1089.5" y="1215.1">GL-TEOS-0.5</text>
<text class="s" fill="#000000" x="1223.2" y="1469.3">GL</text>
<text font-weight="bold" font-size="103" x="821" y="1814">Wavenumber (cm</text>
<text font-size="78" x="1597" y="1766.5">−</text>
<text font-weight="bold" font-size="72" x="1635.8" y="1758.9">1</text>
<text font-weight="bold" font-size="114" x="1672.5" y="1813.5">)</text>
<text font-weight="bold" font-size="102" transform="translate(96,1178.7) rotate(-90)">Intensity (a.u.)</text>
</svg></body></html>
